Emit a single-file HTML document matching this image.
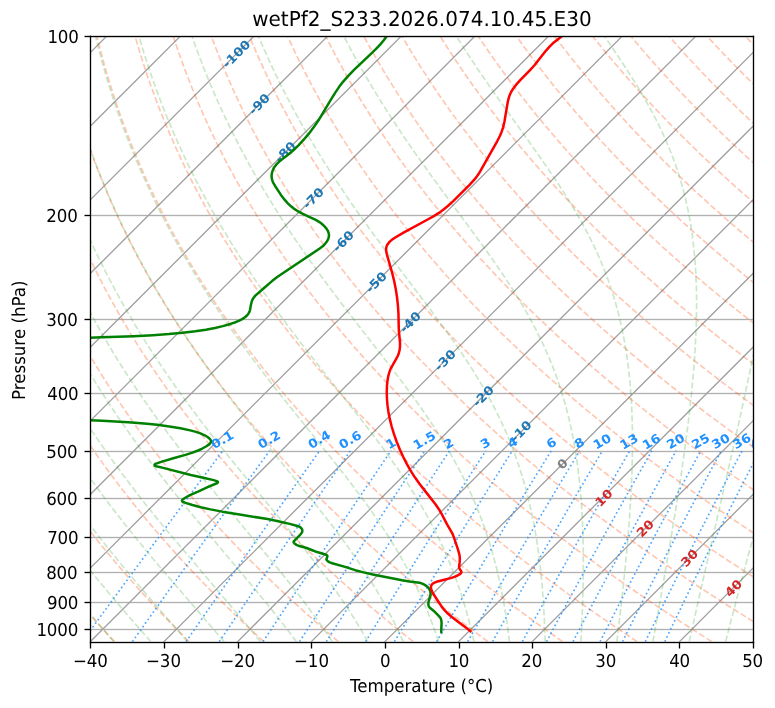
<!DOCTYPE html>
<html lang="en"><head><meta charset="utf-8"><title>Skew-T</title>
<style>html,body{margin:0;padding:0;background:#fff}svg{display:block;will-change:transform}text{text-rendering:geometricPrecision}</style></head>
<body>
<svg width="775" height="708" viewBox="0 0 465 424.8">
<defs>
<style type="text/css">*{stroke-linejoin: round; stroke-linecap: butt}</style>
</defs>
<g id="figure_1">
<g id="patch_1">
<path d="M 0 424.8 L 465 424.8 L 465 0 L 0 0 z" style="fill: #ffffff"/>
</g>
<g id="axes_1">
<g id="patch_2">
<path d="M 54.21 384.99 L 451.86 384.99 L 451.86 21.778 L 54.21 21.778 z" style="fill: #ffffff"/>
</g>
<g id="line2d_1">
<path d="M 54 21.9 L 451.8 21.9" style="fill: none; stroke: #b0b0b0; stroke-width: 0.6"/>
</g>
<g id="line2d_2">
<path d="M 54 22.5 L 451.8 22.5" style="fill: none; stroke: #b0b0b0; stroke-opacity: 0.166667; stroke-width: 0.6"/>
</g>
<g id="line2d_3">
<path d="M 54 128.7 L 451.8 128.7" style="fill: none; stroke: #b0b0b0; stroke-opacity: 0.166667; stroke-width: 0.6"/>
</g>
<g id="line2d_4">
<path d="M 54 129.3 L 451.8 129.3" style="fill: none; stroke: #b0b0b0; stroke-width: 0.6"/>
</g>
<g id="line2d_5">
<path d="M 54 129.9 L 451.8 129.9" style="fill: none; stroke: #b0b0b0; stroke-opacity: 0.166667; stroke-width: 0.6"/>
</g>
<g id="line2d_6">
<path d="M 54 191.1 L 451.8 191.1" style="fill: none; stroke: #b0b0b0; stroke-opacity: 0.166667; stroke-width: 0.6"/>
</g>
<g id="line2d_7">
<path d="M 54 191.7 L 451.8 191.7" style="fill: none; stroke: #b0b0b0; stroke-width: 0.6"/>
</g>
<g id="line2d_8">
<path d="M 54 192.3 L 451.8 192.3" style="fill: none; stroke: #b0b0b0; stroke-opacity: 0.166667; stroke-width: 0.6"/>
</g>
<g id="line2d_9">
<path d="M 54 235.5 L 451.8 235.5" style="fill: none; stroke: #b0b0b0; stroke-opacity: 0.166667; stroke-width: 0.6"/>
</g>
<g id="line2d_10">
<path d="M 54 236.1 L 451.8 236.1" style="fill: none; stroke: #b0b0b0; stroke-width: 0.6"/>
</g>
<g id="line2d_11">
<path d="M 54 236.7 L 451.8 236.7" style="fill: none; stroke: #b0b0b0; stroke-opacity: 0.166667; stroke-width: 0.6"/>
</g>
<g id="line2d_12">
<path d="M 54 270.3 L 451.8 270.3" style="fill: none; stroke: #b0b0b0; stroke-opacity: 0.166667; stroke-width: 0.6"/>
</g>
<g id="line2d_13">
<path d="M 54 270.9 L 451.8 270.9" style="fill: none; stroke: #b0b0b0; stroke-width: 0.6"/>
</g>
<g id="line2d_14">
<path d="M 54 271.5 L 451.8 271.5" style="fill: none; stroke: #b0b0b0; stroke-opacity: 0.166667; stroke-width: 0.6"/>
</g>
<g id="line2d_15">
<path d="M 54 298.5 L 451.8 298.5" style="fill: none; stroke: #b0b0b0; stroke-opacity: 0.166667; stroke-width: 0.6"/>
</g>
<g id="line2d_16">
<path d="M 54 299.1 L 451.8 299.1" style="fill: none; stroke: #b0b0b0; stroke-width: 0.6"/>
</g>
<g id="line2d_17">
<path d="M 54 299.7 L 451.8 299.7" style="fill: none; stroke: #b0b0b0; stroke-opacity: 0.166667; stroke-width: 0.6"/>
</g>
<g id="line2d_18">
<path d="M 54 321.9 L 451.8 321.9" style="fill: none; stroke: #b0b0b0; stroke-opacity: 0.166667; stroke-width: 0.6"/>
</g>
<g id="line2d_19">
<path d="M 54 322.5 L 451.8 322.5" style="fill: none; stroke: #b0b0b0; stroke-width: 0.6"/>
</g>
<g id="line2d_20">
<path d="M 54 323.1 L 451.8 323.1" style="fill: none; stroke: #b0b0b0; stroke-opacity: 0.166667; stroke-width: 0.6"/>
</g>
<g id="line2d_21">
<path d="M 54 342.9 L 451.8 342.9" style="fill: none; stroke: #b0b0b0; stroke-opacity: 0.166667; stroke-width: 0.6"/>
</g>
<g id="line2d_22">
<path d="M 54 343.5 L 451.8 343.5" style="fill: none; stroke: #b0b0b0; stroke-width: 0.6"/>
</g>
<g id="line2d_23">
<path d="M 54 344.1 L 451.8 344.1" style="fill: none; stroke: #b0b0b0; stroke-opacity: 0.166667; stroke-width: 0.6"/>
</g>
<g id="line2d_24">
<path d="M 54 360.9 L 451.8 360.9" style="fill: none; stroke: #b0b0b0; stroke-opacity: 0.166667; stroke-width: 0.6"/>
</g>
<g id="line2d_25">
<path d="M 54 361.5 L 451.8 361.5" style="fill: none; stroke: #b0b0b0; stroke-width: 0.6"/>
</g>
<g id="line2d_26">
<path d="M 54 362.1 L 451.8 362.1" style="fill: none; stroke: #b0b0b0; stroke-opacity: 0.166667; stroke-width: 0.6"/>
</g>
<g id="line2d_27">
<path d="M 54 377.1 L 451.8 377.1" style="fill: none; stroke: #b0b0b0; stroke-opacity: 0.166667; stroke-width: 0.6"/>
</g>
<g id="line2d_28">
<path d="M 54 377.7 L 451.8 377.7" style="fill: none; stroke: #b0b0b0; stroke-width: 0.6"/>
</g>
<g id="line2d_29">
<path d="M 54 378.3 L 451.8 378.3" style="fill: none; stroke: #b0b0b0; stroke-opacity: 0.166667; stroke-width: 0.6"/>
</g>
<g id="line2d_30">
<path d="M -1 42.55 L 19.772 21.778" clip-path="url(#p0dc1dbd13c)" style="fill: none; stroke: #a0a0a0; stroke-width: 0.8; stroke-linecap: square"/>
</g>
<g id="line2d_31">
<path d="M -1 86.733 L 63.956 21.778" clip-path="url(#p0dc1dbd13c)" style="fill: none; stroke: #a0a0a0; stroke-width: 0.8; stroke-linecap: square"/>
</g>
<g id="line2d_32">
<path d="M -1 130.917 L 108.139 21.778" clip-path="url(#p0dc1dbd13c)" style="fill: none; stroke: #a0a0a0; stroke-width: 0.8; stroke-linecap: square"/>
</g>
<g id="line2d_33">
<path d="M -1 175.1 L 152.322 21.778" clip-path="url(#p0dc1dbd13c)" style="fill: none; stroke: #a0a0a0; stroke-width: 0.8; stroke-linecap: square"/>
</g>
<g id="line2d_34">
<path d="M -1 219.283 L 196.506 21.778" clip-path="url(#p0dc1dbd13c)" style="fill: none; stroke: #a0a0a0; stroke-width: 0.8; stroke-linecap: square"/>
</g>
<g id="line2d_35">
<path d="M -1 263.467 L 240.689 21.778" clip-path="url(#p0dc1dbd13c)" style="fill: none; stroke: #a0a0a0; stroke-width: 0.8; stroke-linecap: square"/>
</g>
<g id="line2d_36">
<path d="M -1 307.65 L 284.872 21.778" clip-path="url(#p0dc1dbd13c)" style="fill: none; stroke: #a0a0a0; stroke-width: 0.8; stroke-linecap: square"/>
</g>
<g id="line2d_37">
<path d="M -1 351.833 L 329.056 21.778" clip-path="url(#p0dc1dbd13c)" style="fill: none; stroke: #a0a0a0; stroke-width: 0.8; stroke-linecap: square"/>
</g>
<g id="line2d_38">
<path d="M 10.027 384.99 L 373.239 21.778" clip-path="url(#p0dc1dbd13c)" style="fill: none; stroke: #a0a0a0; stroke-width: 0.8; stroke-linecap: square"/>
</g>
<g id="line2d_39">
<path d="M 54.21 384.99 L 417.422 21.778" clip-path="url(#p0dc1dbd13c)" style="fill: none; stroke: #a0a0a0; stroke-width: 0.8; stroke-linecap: square"/>
</g>
<g id="line2d_40">
<path d="M 98.393 384.99 L 461.606 21.778" clip-path="url(#p0dc1dbd13c)" style="fill: none; stroke: #a0a0a0; stroke-width: 0.8; stroke-linecap: square"/>
</g>
<g id="line2d_41">
<path d="M 142.577 384.99 L 466 61.567" clip-path="url(#p0dc1dbd13c)" style="fill: none; stroke: #a0a0a0; stroke-width: 0.8; stroke-linecap: square"/>
</g>
<g id="line2d_42">
<path d="M 186.76 384.99 L 466 105.75" clip-path="url(#p0dc1dbd13c)" style="fill: none; stroke: #a0a0a0; stroke-width: 0.8; stroke-linecap: square"/>
</g>
<g id="line2d_43">
<path d="M 230.943 384.99 L 466 149.933" clip-path="url(#p0dc1dbd13c)" style="fill: none; stroke: #a0a0a0; stroke-width: 0.8; stroke-linecap: square"/>
</g>
<g id="line2d_44">
<path d="M 275.127 384.99 L 466 194.117" clip-path="url(#p0dc1dbd13c)" style="fill: none; stroke: #a0a0a0; stroke-width: 0.8; stroke-linecap: square"/>
</g>
<g id="line2d_45">
<path d="M 319.31 384.99 L 466 238.3" clip-path="url(#p0dc1dbd13c)" style="fill: none; stroke: #a0a0a0; stroke-width: 0.8; stroke-linecap: square"/>
</g>
<g id="line2d_46">
<path d="M 363.493 384.99 L 466 282.483" clip-path="url(#p0dc1dbd13c)" style="fill: none; stroke: #a0a0a0; stroke-width: 0.8; stroke-linecap: square"/>
</g>
<g id="line2d_47">
<path d="M 407.677 384.99 L 466 326.667" clip-path="url(#p0dc1dbd13c)" style="fill: none; stroke: #a0a0a0; stroke-width: 0.8; stroke-linecap: square"/>
</g>
<g id="line2d_48">
<path d="M 451.86 384.99 L 466 370.85" clip-path="url(#p0dc1dbd13c)" style="fill: none; stroke: #a0a0a0; stroke-width: 0.8; stroke-linecap: square"/>
</g>
<g id="line2d_49">
<path d="M 68.671 384.99 L 60.078 375.604 L 51.954 366.402 L 43.987 357.037 L 36.549 347.961 L 29.314 338.791 L 22.297 329.544 L 15.517 320.243 L 8.991 310.911 L 2.738 301.582 L -1 295.806 L -1 295.806" clip-path="url(#p0dc1dbd13c)" style="fill: none; stroke-dasharray: 3.7,1.6; stroke-dashoffset: 0; stroke: #ff4500; stroke-opacity: 0.3"/>
</g>
<g id="line2d_50">
<path d="M 113.474 384.99 L 104.11 375.604 L 95.243 366.402 L 86.533 357.037 L 78.387 347.961 L 70.448 338.791 L 62.734 329.544 L 55.264 320.243 L 48.058 310.911 L 41.136 301.582 L 34.52 292.293 L 28.232 283.088 L 22.292 274.019 L 16.256 264.385 L 10.598 254.925 L 5.34 245.712 L 0.017 235.916 L -1 233.985 L -1 233.985" clip-path="url(#p0dc1dbd13c)" style="fill: none; stroke-dasharray: 3.7,1.6; stroke-dashoffset: 0; stroke: #ff4500; stroke-opacity: 0.3"/>
</g>
<g id="line2d_51">
<path d="M 158.278 384.99 L 148.142 375.604 L 138.533 366.402 L 129.079 357.037 L 120.224 347.961 L 111.582 338.791 L 103.17 329.544 L 95.01 320.243 L 87.124 310.911 L 79.534 301.582 L 72.264 292.293 L 65.339 283.088 L 58.782 274.019 L 52.101 264.385 L 45.821 254.925 L 39.968 245.712 L 34.023 235.916 L 28.54 226.436 L 23.542 217.377 L 18.489 207.753 L 13.955 198.664 L 9.386 189.007 L 5.366 180.031 L 1.331 170.501 L -1 164.722 L -1 164.722" clip-path="url(#p0dc1dbd13c)" style="fill: none; stroke-dasharray: 3.7,1.6; stroke-dashoffset: 0; stroke: #ff4500; stroke-opacity: 0.3"/>
</g>
<g id="line2d_52">
<path d="M 203.081 384.99 L 192.175 375.604 L 181.822 366.402 L 171.625 357.037 L 162.062 347.961 L 152.716 338.791 L 143.607 329.544 L 134.757 320.243 L 126.191 310.911 L 117.932 301.582 L 110.008 292.293 L 102.445 283.088 L 95.272 274.019 L 87.946 264.385 L 81.044 254.925 L 74.596 245.712 L 68.631 236.833 L 62.567 227.411 L 57.023 218.41 L 51.4 208.852 L 46.335 199.83 L 41.211 190.247 L 36.683 181.345 L 32.117 171.899 L 27.521 161.837 L 23.564 152.658 L 19.599 142.899 L 15.638 132.481 L 12.35 123.229 L 9.086 113.387 L 5.86 102.875 L 3.321 93.918 L 0.832 84.409 L -1 76.838 L -1 76.838" clip-path="url(#p0dc1dbd13c)" style="fill: none; stroke-dasharray: 3.7,1.6; stroke-dashoffset: 0; stroke: #ff4500; stroke-opacity: 0.3"/>
</g>
<g id="line2d_53">
<path d="M 247.885 384.99 L 236.207 375.604 L 225.111 366.402 L 214.171 357.037 L 203.9 347.961 L 193.85 338.791 L 184.043 329.544 L 174.504 320.243 L 165.257 310.911 L 156.331 301.582 L 147.752 292.293 L 139.552 283.088 L 131.761 274.019 L 124.411 265.148 L 116.901 255.736 L 109.871 246.573 L 103.354 237.744 L 96.714 228.379 L 90.629 219.437 L 84.44 209.944 L 78.85 200.987 L 73.178 191.478 L 68.148 182.649 L 63.058 173.284 L 57.912 163.315 L 53.461 154.226 L 48.98 144.569 L 44.475 134.267 L 40.711 125.124 L 36.947 115.406 L 33.196 105.035 L 30.214 96.206 L 27.26 86.842 L 24.348 76.873 L 21.494 66.215 L 18.723 54.768 L 16.717 45.589 L 14.79 35.83 L 12.964 25.412 L 12.382 21.778 L 12.382 21.778" clip-path="url(#p0dc1dbd13c)" style="fill: none; stroke-dasharray: 3.7,1.6; stroke-dashoffset: 0; stroke: #ff4500; stroke-opacity: 0.3"/>
</g>
<g id="line2d_54">
<path d="M 292.688 384.99 L 280.24 375.604 L 268.401 366.402 L 256.717 357.037 L 245.737 347.961 L 234.984 338.791 L 224.48 329.544 L 214.251 320.243 L 204.324 310.911 L 194.729 301.582 L 185.496 292.293 L 176.659 283.088 L 168.251 274.019 L 160.307 265.148 L 152.177 255.736 L 144.554 246.573 L 137.476 237.744 L 130.249 228.379 L 123.614 219.437 L 116.851 209.944 L 110.729 200.987 L 104.501 191.478 L 98.963 182.649 L 93.344 173.284 L 87.645 163.315 L 82.699 154.226 L 77.7 144.569 L 72.653 134.267 L 68.416 125.124 L 64.159 115.406 L 59.891 105.035 L 56.476 96.206 L 53.071 86.842 L 49.687 76.873 L 46.34 66.215 L 43.864 57.71 L 41.431 48.71 L 39.054 39.152 L 36.751 28.964 L 35.267 21.778 L 35.267 21.778" clip-path="url(#p0dc1dbd13c)" style="fill: none; stroke-dasharray: 3.7,1.6; stroke-dashoffset: 0; stroke: #ff4500; stroke-opacity: 0.3"/>
</g>
<g id="line2d_55">
<path d="M 337.492 384.99 L 324.272 375.604 L 311.69 366.402 L 299.262 357.037 L 287.575 347.961 L 276.118 338.791 L 264.916 329.544 L 253.997 320.243 L 243.39 310.911 L 233.127 301.582 L 223.241 292.293 L 213.766 283.088 L 204.74 274.019 L 196.202 265.148 L 187.453 255.736 L 179.238 246.573 L 171.597 237.744 L 163.785 228.379 L 156.6 219.437 L 149.263 209.944 L 142.608 200.987 L 135.824 191.478 L 129.779 182.649 L 123.631 173.284 L 117.378 163.315 L 111.936 154.226 L 106.419 144.569 L 101.767 136.033 L 97.067 126.997 L 92.324 117.399 L 87.545 107.166 L 83.701 98.461 L 79.847 89.237 L 75.99 79.426 L 72.143 68.949 L 69.274 60.598 L 66.427 51.769 L 63.614 42.404 L 60.85 32.435 L 58.151 21.778 L 58.151 21.778" clip-path="url(#p0dc1dbd13c)" style="fill: none; stroke-dasharray: 3.7,1.6; stroke-dashoffset: 0; stroke: #ff4500; stroke-opacity: 0.3"/>
</g>
<g id="line2d_56">
<path d="M 382.296 384.99 L 368.304 375.604 L 354.979 366.402 L 341.808 357.037 L 329.413 347.961 L 317.252 338.791 L 305.353 329.544 L 293.744 320.243 L 282.457 310.911 L 271.525 301.582 L 260.985 292.293 L 250.873 283.088 L 241.23 274.019 L 232.098 265.148 L 222.73 255.736 L 213.921 246.573 L 205.719 237.744 L 197.321 228.379 L 189.585 219.437 L 181.674 209.944 L 174.487 200.987 L 167.147 191.478 L 160.595 182.649 L 153.917 173.284 L 147.112 163.315 L 141.174 154.226 L 135.139 144.569 L 130.037 136.033 L 124.868 126.997 L 119.636 117.399 L 114.345 107.166 L 110.073 98.461 L 105.773 89.237 L 101.45 79.426 L 97.114 68.949 L 93.862 60.598 L 90.617 51.769 L 87.389 42.404 L 84.19 32.435 L 81.036 21.778 L 81.036 21.778" clip-path="url(#p0dc1dbd13c)" style="fill: none; stroke-dasharray: 3.7,1.6; stroke-dashoffset: 0; stroke: #ff4500; stroke-opacity: 0.3"/>
</g>
<g id="line2d_57">
<path d="M 427.099 384.99 L 412.337 375.604 L 398.268 366.402 L 384.354 357.037 L 370.616 347.515 L 357.732 338.318 L 345.115 329.042 L 332.796 319.709 L 320.808 310.344 L 309.187 300.98 L 297.971 291.653 L 287.2 282.409 L 276.919 273.299 L 267.172 264.385 L 257.161 254.925 L 247.738 245.712 L 238.952 236.833 L 229.945 227.411 L 221.638 218.41 L 213.13 208.852 L 205.388 199.83 L 197.47 190.247 L 190.39 181.345 L 183.162 171.899 L 176.845 163.315 L 170.411 154.226 L 163.859 144.569 L 158.307 136.033 L 152.67 126.997 L 146.949 117.399 L 141.145 107.166 L 136.445 98.461 L 131.699 89.237 L 126.91 79.426 L 122.085 68.949 L 118.45 60.598 L 114.807 51.769 L 111.163 42.404 L 107.53 32.435 L 103.921 21.778 L 103.921 21.778" clip-path="url(#p0dc1dbd13c)" style="fill: none; stroke-dasharray: 3.7,1.6; stroke-dashoffset: 0; stroke: #ff4500; stroke-opacity: 0.3"/>
</g>
<g id="line2d_58">
<path d="M 465.6 381.213 L 450.87 372.217 L 435.878 362.805 L 421.689 353.642 L 407.711 344.358 L 393.972 334.965 L 380.502 325.479 L 367.334 315.922 L 355.268 306.899 L 343.624 297.933 L 331.633 288.415 L 320.104 278.968 L 309.084 269.647 L 298.623 260.513 L 288.773 251.638 L 278.655 242.222 L 269.209 233.133 L 259.51 223.475 L 250.552 214.235 L 242.395 205.53 L 234.044 196.306 L 225.489 186.495 L 217.827 177.368 L 209.991 167.667 L 203.131 158.838 L 196.132 149.473 L 188.99 139.504 L 182.926 130.675 L 176.758 121.31 L 170.484 111.341 L 165.39 102.875 L 160.229 93.918 L 155.004 84.409 L 149.72 74.276 L 144.381 63.432 L 140.346 54.768 L 136.292 45.589 L 132.226 35.83 L 128.159 25.412 L 126.805 21.778 L 126.805 21.778" clip-path="url(#p0dc1dbd13c)" style="fill: none; stroke-dasharray: 3.7,1.6; stroke-dashoffset: 0; stroke: #ff4500; stroke-opacity: 0.3"/>
</g>
<g id="line2d_59">
<path d="M 465.6 354.657 L 451.399 345.719 L 437.014 336.411 L 422.905 327.016 L 409.107 317.556 L 395.656 308.056 L 382.594 298.547 L 369.963 289.068 L 357.811 279.662 L 346.188 270.384 L 335.147 261.295 L 323.783 251.638 L 313.06 242.222 L 303.041 233.133 L 292.743 223.475 L 283.222 214.235 L 274.543 205.53 L 265.648 196.306 L 256.525 186.495 L 248.343 177.368 L 239.965 167.667 L 232.619 158.838 L 225.113 149.473 L 217.442 139.504 L 210.917 130.675 L 204.268 121.31 L 197.492 111.341 L 191.978 102.875 L 186.38 93.918 L 180.7 84.409 L 174.938 74.276 L 169.098 63.432 L 164.671 54.768 L 160.207 45.589 L 155.714 35.83 L 151.198 25.412 L 149.69 21.778 L 149.69 21.778" clip-path="url(#p0dc1dbd13c)" style="fill: none; stroke-dasharray: 3.7,1.6; stroke-dashoffset: 0; stroke: #ff4500; stroke-opacity: 0.3"/>
</g>
<g id="line2d_60">
<path d="M 465.6 328.587 L 451.919 319.709 L 437.885 310.344 L 424.253 300.98 L 411.069 291.653 L 398.381 282.409 L 386.242 273.299 L 374.707 264.385 L 362.831 254.925 L 351.623 245.712 L 341.145 236.833 L 330.372 227.411 L 320.407 218.41 L 310.168 208.852 L 300.82 199.83 L 291.226 190.247 L 282.614 181.345 L 273.789 171.899 L 266.044 163.315 L 258.124 154.226 L 250.019 144.569 L 243.117 136.033 L 236.074 126.997 L 228.885 117.399 L 221.545 107.166 L 215.562 98.461 L 209.476 89.237 L 203.289 79.426 L 196.999 68.949 L 192.215 60.598 L 187.377 51.769 L 182.487 42.404 L 177.551 32.435 L 172.575 21.778 L 172.575 21.778" clip-path="url(#p0dc1dbd13c)" style="fill: none; stroke-dasharray: 3.7,1.6; stroke-dashoffset: 0; stroke: #ff4500; stroke-opacity: 0.3"/>
</g>
<g id="line2d_61">
<path d="M 465.6 302.961 L 452.502 294.196 L 439.291 285.107 L 426.65 276.16 L 413.618 266.662 L 401.215 257.345 L 389.505 248.28 L 377.442 238.65 L 366.147 229.342 L 355.693 220.456 L 344.944 211.028 L 335.127 202.135 L 325.042 192.699 L 315.986 183.942 L 306.697 174.658 L 297.161 164.779 L 288.778 155.779 L 280.191 146.221 L 272.869 137.778 L 265.391 128.847 L 257.747 119.367 L 249.93 109.268 L 243.548 100.684 L 237.047 91.595 L 230.423 81.938 L 223.676 71.636 L 218.533 63.432 L 213.32 54.768 L 208.038 45.589 L 202.688 35.83 L 197.276 25.412 L 195.459 21.778 L 195.459 21.778" clip-path="url(#p0dc1dbd13c)" style="fill: none; stroke-dasharray: 3.7,1.6; stroke-dashoffset: 0; stroke: #ff4500; stroke-opacity: 0.3"/>
</g>
<g id="line2d_62">
<path d="M 465.6 277.741 L 452.808 268.906 L 439.889 259.727 L 427.688 250.805 L 415.118 241.336 L 403.343 232.194 L 391.212 222.475 L 379.965 213.173 L 369.686 204.407 L 359.124 195.113 L 349.632 186.495 L 339.891 177.368 L 329.885 167.667 L 321.082 158.838 L 312.058 149.473 L 302.798 139.504 L 294.891 130.675 L 286.8 121.31 L 278.516 111.341 L 271.743 102.875 L 264.835 93.918 L 257.786 84.409 L 250.593 74.276 L 245.1 66.215 L 239.523 57.71 L 233.86 48.71 L 228.111 39.152 L 222.278 28.964 L 218.344 21.778 L 218.344 21.778" clip-path="url(#p0dc1dbd13c)" style="fill: none; stroke-dasharray: 3.7,1.6; stroke-dashoffset: 0; stroke: #ff4500; stroke-opacity: 0.3"/>
</g>
<g id="line2d_63">
<path d="M 465.6 252.89 L 453.102 243.977 L 440.86 234.994 L 428.245 225.456 L 416.547 216.337 L 404.496 206.646 L 393.465 197.489 L 382.111 187.756 L 371.89 178.705 L 361.384 169.09 L 352.135 160.345 L 342.646 151.074 L 332.9 141.211 L 324.571 132.481 L 316.041 123.229 L 307.299 113.387 L 300.143 105.035 L 292.837 96.206 L 285.373 86.842 L 277.745 76.873 L 269.946 66.215 L 263.98 57.71 L 257.913 48.71 L 251.743 39.152 L 245.468 28.964 L 241.228 21.778 L 241.228 21.778" clip-path="url(#p0dc1dbd13c)" style="fill: none; stroke-dasharray: 3.7,1.6; stroke-dashoffset: 0; stroke: #ff4500; stroke-opacity: 0.3"/>
</g>
<g id="line2d_64">
<path d="M 465.6 228.375 L 464.275 227.411 L 462.94 226.436 L 461.6 225.456 L 460.256 224.469 L 458.907 223.475 L 457.555 222.475 L 456.198 221.469 L 454.836 220.456 L 453.47 219.437 L 452.099 218.41 L 450.724 217.377 L 449.344 216.337 L 447.959 215.29 L 446.57 214.235 L 445.176 213.173 L 443.777 212.104 L 442.374 211.028 L 440.965 209.944 L 439.552 208.852 L 438.134 207.753 L 436.711 206.646 L 435.282 205.53 L 433.849 204.407 L 432.41 203.275 L 430.967 202.135 L 429.518 200.987 L 428.063 199.83 L 426.604 198.664 L 425.139 197.489 L 423.668 196.306 L 422.193 195.113 L 420.711 193.911 L 419.224 192.699 L 417.731 191.478 L 416.233 190.247 L 414.729 189.007 L 413.219 187.756 L 411.703 186.495 L 410.182 185.224 L 408.654 183.942 L 407.12 182.649 L 405.58 181.345 L 404.034 180.031 L 402.482 178.705 L 400.924 177.368 L 399.359 176.018 L 397.787 174.658 L 396.21 173.284 L 394.625 171.899 L 393.034 170.501 L 391.436 169.09 L 389.832 167.667 L 388.221 166.23 L 386.602 164.779 L 384.977 163.315 L 383.345 161.837 L 381.705 160.345 L 380.058 158.838 L 378.404 157.316 L 376.743 155.779 L 375.074 154.226 L 373.397 152.658 L 371.713 151.074 L 370.021 149.473 L 368.322 147.856 L 366.614 146.221 L 364.898 144.569 L 363.174 142.899 L 361.442 141.211 L 359.702 139.504 L 357.954 137.778 L 356.196 136.033 L 354.431 134.267 L 352.656 132.481 L 350.873 130.675 L 349.081 128.847 L 347.279 126.997 L 345.469 125.124 L 343.65 123.229 L 341.821 121.31 L 339.982 119.367 L 338.134 117.399 L 336.276 115.406 L 334.409 113.387 L 332.531 111.341 L 330.644 109.268 L 328.746 107.166 L 326.838 105.035 L 324.919 102.875 L 322.99 100.684 L 321.05 98.461 L 319.099 96.206 L 317.137 93.918 L 315.164 91.595 L 313.18 89.237 L 311.184 86.842 L 309.177 84.409 L 307.158 81.938 L 305.127 79.426 L 303.085 76.873 L 301.03 74.276 L 298.962 71.636 L 296.883 68.949 L 294.791 66.215 L 292.686 63.432 L 290.568 60.598 L 288.438 57.71 L 286.294 54.768 L 284.137 51.769 L 281.967 48.71 L 279.783 45.589 L 277.586 42.404 L 275.375 39.152 L 273.15 35.83 L 270.912 32.435 L 268.659 28.964 L 266.393 25.412 L 264.113 21.778" clip-path="url(#p0dc1dbd13c)" style="fill: none; stroke-dasharray: 3.7,1.6; stroke-dashoffset: 0; stroke: #ff4500; stroke-opacity: 0.3"/>
</g>
<g id="line2d_65">
<path d="M 465.6 204.159 L 464.424 203.275 L 462.913 202.135 L 461.396 200.987 L 459.874 199.83 L 458.346 198.664 L 456.812 197.489 L 455.272 196.306 L 453.727 195.113 L 452.175 193.911 L 450.618 192.699 L 449.055 191.478 L 447.485 190.247 L 445.909 189.007 L 444.327 187.756 L 442.739 186.495 L 441.144 185.224 L 439.543 183.942 L 437.936 182.649 L 436.322 181.345 L 434.701 180.031 L 433.074 178.705 L 431.44 177.368 L 429.799 176.018 L 428.151 174.658 L 426.496 173.284 L 424.834 171.899 L 423.165 170.501 L 421.489 169.09 L 419.805 167.667 L 418.114 166.23 L 416.416 164.779 L 414.71 163.315 L 412.997 161.837 L 411.275 160.345 L 409.546 158.838 L 407.809 157.316 L 406.064 155.779 L 404.311 154.226 L 402.55 152.658 L 400.781 151.074 L 399.003 149.473 L 397.217 147.856 L 395.422 146.221 L 393.618 144.569 L 391.806 142.899 L 389.985 141.211 L 388.154 139.504 L 386.315 137.778 L 384.466 136.033 L 382.608 134.267 L 380.741 132.481 L 378.864 130.675 L 376.977 128.847 L 375.081 126.997 L 373.174 125.124 L 371.258 123.229 L 369.331 121.31 L 367.394 119.367 L 365.446 117.399 L 363.488 115.406 L 361.519 113.387 L 359.539 111.341 L 357.548 109.268 L 355.546 107.166 L 353.532 105.035 L 351.507 102.875 L 349.471 100.684 L 347.422 98.461 L 345.361 96.206 L 343.289 93.918 L 341.204 91.595 L 339.106 89.237 L 336.996 86.842 L 334.873 84.409 L 332.736 81.938 L 330.587 79.426 L 328.424 76.873 L 326.248 74.276 L 324.058 71.636 L 321.854 68.949 L 319.636 66.215 L 317.403 63.432 L 315.156 60.598 L 312.895 57.71 L 310.618 54.768 L 308.327 51.769 L 306.02 48.71 L 303.698 45.589 L 301.36 42.404 L 299.007 39.152 L 296.637 35.83 L 294.252 32.435 L 291.85 28.964 L 289.432 25.412 L 286.998 21.778" clip-path="url(#p0dc1dbd13c)" style="fill: none; stroke-dasharray: 3.7,1.6; stroke-dashoffset: 0; stroke: #ff4500; stroke-opacity: 0.3"/>
</g>
<g id="line2d_66">
<path d="M 465.6 180.211 L 465.368 180.031 L 463.666 178.705 L 461.956 177.368 L 460.239 176.018 L 458.515 174.658 L 456.783 173.284 L 455.043 171.899 L 453.296 170.501 L 451.541 169.09 L 449.779 167.667 L 448.008 166.23 L 446.23 164.779 L 444.443 163.315 L 442.649 161.837 L 440.846 160.345 L 439.034 158.838 L 437.214 157.316 L 435.386 155.779 L 433.549 154.226 L 431.703 152.658 L 429.848 151.074 L 427.984 149.473 L 426.112 147.856 L 424.229 146.221 L 422.338 144.569 L 420.437 142.899 L 418.527 141.211 L 416.606 139.504 L 414.676 137.778 L 412.736 136.033 L 410.786 134.267 L 408.826 132.481 L 406.855 130.675 L 404.874 128.847 L 402.882 126.997 L 400.88 125.124 L 398.866 123.229 L 396.842 121.31 L 394.806 119.367 L 392.759 117.399 L 390.7 115.406 L 388.629 113.387 L 386.547 111.341 L 384.453 109.268 L 382.346 107.166 L 380.227 105.035 L 378.096 102.875 L 375.951 100.684 L 373.794 98.461 L 371.624 96.206 L 369.44 93.918 L 367.243 91.595 L 365.032 89.237 L 362.807 86.842 L 360.568 84.409 L 358.315 81.938 L 356.047 79.426 L 353.764 76.873 L 351.466 74.276 L 349.153 71.636 L 346.825 68.949 L 344.481 66.215 L 342.121 63.432 L 339.745 60.598 L 337.352 57.71 L 334.943 54.768 L 332.517 51.769 L 330.074 48.71 L 327.613 45.589 L 325.135 42.404 L 322.639 39.152 L 320.125 35.83 L 317.592 32.435 L 315.041 28.964 L 312.471 25.412 L 309.882 21.778" clip-path="url(#p0dc1dbd13c)" style="fill: none; stroke-dasharray: 3.7,1.6; stroke-dashoffset: 0; stroke: #ff4500; stroke-opacity: 0.3"/>
</g>
<g id="line2d_67">
<path d="M 465.6 156.496 L 464.708 155.779 L 462.786 154.226 L 460.856 152.658 L 458.916 151.074 L 456.966 149.473 L 455.007 147.856 L 453.037 146.221 L 451.058 144.569 L 449.068 142.899 L 447.069 141.211 L 445.058 139.504 L 443.038 137.778 L 441.006 136.033 L 438.964 134.267 L 436.911 132.481 L 434.846 130.675 L 432.771 128.847 L 430.684 126.997 L 428.585 125.124 L 426.475 123.229 L 424.352 121.31 L 422.218 119.367 L 420.071 117.399 L 417.912 115.406 L 415.74 113.387 L 413.555 111.341 L 411.357 109.268 L 409.146 107.166 L 406.922 105.035 L 404.684 102.875 L 402.432 100.684 L 400.166 98.461 L 397.886 96.206 L 395.591 93.918 L 393.282 91.595 L 390.958 89.237 L 388.618 86.842 L 386.263 84.409 L 383.893 81.938 L 381.506 79.426 L 379.104 76.873 L 376.685 74.276 L 374.249 71.636 L 371.796 68.949 L 369.326 66.215 L 366.838 63.432 L 364.333 60.598 L 361.81 57.71 L 359.268 54.768 L 356.707 51.769 L 354.127 48.71 L 351.528 45.589 L 348.909 42.404 L 346.271 39.152 L 343.612 35.83 L 340.932 32.435 L 338.232 28.964 L 335.51 25.412 L 332.767 21.778" clip-path="url(#p0dc1dbd13c)" style="fill: none; stroke-dasharray: 3.7,1.6; stroke-dashoffset: 0; stroke: #ff4500; stroke-opacity: 0.3"/>
</g>
<g id="line2d_68">
<path d="M 465.6 132.984 L 464.996 132.481 L 462.838 130.675 L 460.667 128.847 L 458.485 126.997 L 456.29 125.124 L 454.083 123.229 L 451.863 121.31 L 449.629 119.367 L 447.383 117.399 L 445.123 115.406 L 442.85 113.387 L 440.563 111.341 L 438.262 109.268 L 435.946 107.166 L 433.617 105.035 L 431.272 102.875 L 428.913 100.684 L 426.538 98.461 L 424.148 96.206 L 421.743 93.918 L 419.321 91.595 L 416.884 89.237 L 414.43 86.842 L 411.959 84.409 L 409.471 81.938 L 406.966 79.426 L 404.443 76.873 L 401.903 74.276 L 399.344 71.636 L 396.767 68.949 L 394.171 66.215 L 391.556 63.432 L 388.921 60.598 L 386.267 57.71 L 383.592 54.768 L 380.897 51.769 L 378.181 48.71 L 375.443 45.589 L 372.684 42.404 L 369.903 39.152 L 367.099 35.83 L 364.272 32.435 L 361.423 28.964 L 358.549 25.412 L 355.652 21.778" clip-path="url(#p0dc1dbd13c)" style="fill: none; stroke-dasharray: 3.7,1.6; stroke-dashoffset: 0; stroke: #ff4500; stroke-opacity: 0.3"/>
</g>
<g id="line2d_69">
<path d="M 465.6 109.642 L 465.166 109.268 L 462.746 107.166 L 460.311 105.035 L 457.86 102.875 L 455.393 100.684 L 452.91 98.461 L 450.411 96.206 L 447.894 93.918 L 445.361 91.595 L 442.81 89.237 L 440.241 86.842 L 437.654 84.409 L 435.049 81.938 L 432.426 79.426 L 429.783 76.873 L 427.121 74.276 L 424.44 71.636 L 421.738 68.949 L 419.016 66.215 L 416.274 63.432 L 413.51 60.598 L 410.724 57.71 L 407.917 54.768 L 405.087 51.769 L 402.234 48.71 L 399.358 45.589 L 396.459 42.404 L 393.535 39.152 L 390.586 35.83 L 387.613 32.435 L 384.614 28.964 L 381.588 25.412 L 378.536 21.778" clip-path="url(#p0dc1dbd13c)" style="fill: none; stroke-dasharray: 3.7,1.6; stroke-dashoffset: 0; stroke: #ff4500; stroke-opacity: 0.3"/>
</g>
<g id="line2d_70">
<path d="M 465.6 86.435 L 463.35 84.409 L 460.628 81.938 L 457.885 79.426 L 455.123 76.873 L 452.34 74.276 L 449.535 71.636 L 446.709 68.949 L 443.861 66.215 L 440.991 63.432 L 438.098 60.598 L 435.181 57.71 L 432.241 54.768 L 429.277 51.769 L 426.288 48.71 L 423.273 45.589 L 420.233 42.404 L 417.167 39.152 L 414.074 35.83 L 410.953 32.435 L 407.804 28.964 L 404.627 25.412 L 401.421 21.778" clip-path="url(#p0dc1dbd13c)" style="fill: none; stroke-dasharray: 3.7,1.6; stroke-dashoffset: 0; stroke: #ff4500; stroke-opacity: 0.3"/>
</g>
<g id="line2d_71">
<path d="M 465.6 63.33 L 462.686 60.598 L 459.639 57.71 L 456.566 54.768 L 453.467 51.769 L 450.341 48.71 L 447.188 45.589 L 444.008 42.404 L 440.799 39.152 L 437.561 35.83 L 434.293 32.435 L 430.995 28.964 L 427.666 25.412 L 424.306 21.778" clip-path="url(#p0dc1dbd13c)" style="fill: none; stroke-dasharray: 3.7,1.6; stroke-dashoffset: 0; stroke: #ff4500; stroke-opacity: 0.3"/>
</g>
<g id="line2d_72">
<path d="M 465.6 40.286 L 464.431 39.152 L 461.048 35.83 L 457.633 32.435 L 454.186 28.964 L 450.705 25.412 L 447.19 21.778" clip-path="url(#p0dc1dbd13c)" style="fill: none; stroke-dasharray: 3.7,1.6; stroke-dashoffset: 0; stroke: #ff4500; stroke-opacity: 0.3"/>
</g>
<g id="line2d_73">
<path d="M 68.273 384.99 L 56.949 371.836 L 47.36 360.359 L 38.766 349.731 L 30.955 339.733 L 23.656 330.045 L 16.546 320.243 L 10.041 310.911 L 3.796 301.582 L -1 294.142 L -1 294.142" clip-path="url(#p0dc1dbd13c)" style="fill: none; stroke-dasharray: 3.7,1.6; stroke-dashoffset: 0; stroke: #2ca02c; stroke-opacity: 0.25"/>
</g>
<g id="line2d_74">
<path d="M 90.445 384.99 L 75.621 367.974 L 64.911 355.349 L 55.494 343.902 L 47.222 333.505 L 39.466 323.406 L 32.293 313.715 L 25.354 303.968 L 18.678 294.196 L 12.292 284.437 L 6.222 274.736 L 0.493 265.148 L -1 262.572 L -1 262.572" clip-path="url(#p0dc1dbd13c)" style="fill: none; stroke-dasharray: 3.7,1.6; stroke-dashoffset: 0; stroke: #2ca02c; stroke-opacity: 0.25"/>
</g>
<g id="line2d_75">
<path d="M 112.515 384.99 L 86.042 354.498 L 75.186 341.6 L 66.158 330.544 L 58.015 320.243 L 50.458 310.344 L 43.124 300.375 L 36.049 290.366 L 29.722 281.042 L 23.735 271.849 L 17.641 262.074 L 11.923 252.466 L 6.606 243.102 L 1.712 234.066 L -1 228.865 L -1 228.865" clip-path="url(#p0dc1dbd13c)" style="fill: none; stroke-dasharray: 3.7,1.6; stroke-dashoffset: 0; stroke: #2ca02c; stroke-opacity: 0.25"/>
</g>
<g id="line2d_76">
<path d="M 134.457 384.99 L 121.525 369.917 L 95.577 339.733 L 84.98 327.016 L 76.012 315.922 L 67.591 305.147 L 59.814 294.825 L 52.765 285.107 L 46.03 275.449 L 39.643 265.907 L 33.635 256.542 L 28.034 247.429 L 22.345 237.744 L 17.102 228.379 L 12.326 219.437 L 7.502 209.944 L 3.178 200.987 L -1 191.868 L -1 191.868" clip-path="url(#p0dc1dbd13c)" style="fill: none; stroke-dasharray: 3.7,1.6; stroke-dashoffset: 0; stroke: #2ca02c; stroke-opacity: 0.25"/>
</g>
<g id="line2d_77">
<path d="M 156.25 384.99 L 147.966 374.857 L 137.142 361.994 L 99.006 317.013 L 89.394 305.147 L 80.814 294.196 L 72.93 283.764 L 65.836 274.019 L 59.089 264.385 L 52.726 254.925 L 46.781 245.712 L 40.73 235.916 L 35.141 226.436 L 30.04 217.377 L 24.876 207.753 L 20.238 198.664 L 15.56 189.007 L 11.438 180.031 L 7.298 170.501 L 3.148 160.345 L -0.408 151.074 L -1 149.471 L -1 149.471" clip-path="url(#p0dc1dbd13c)" style="fill: none; stroke-dasharray: 3.7,1.6; stroke-dashoffset: 0; stroke: #2ca02c; stroke-opacity: 0.25"/>
</g>
<g id="line2d_78">
<path d="M 177.882 384.99 L 171.638 376.716 L 164.463 367.582 L 155.885 357.037 L 144.516 343.444 L 112.793 305.733 L 102.938 293.564 L 94.191 282.409 L 86.2 271.849 L 79.071 262.074 L 72.327 252.466 L 66.009 243.102 L 59.563 233.133 L 53.594 223.475 L 48.136 214.235 L 42.6 204.407 L 37.617 195.113 L 32.579 185.224 L 28.133 176.018 L 23.656 166.23 L 19.802 157.316 L 15.94 147.856 L 12.08 137.778 L 8.874 128.847 L 5.689 119.367 L 2.537 109.268 L -0.564 98.461 L -1 96.853 L -1 96.853" clip-path="url(#p0dc1dbd13c)" style="fill: none; stroke-dasharray: 3.7,1.6; stroke-dashoffset: 0; stroke: #2ca02c; stroke-opacity: 0.25"/>
</g>
<g id="line2d_79">
<path d="M 199.36 384.99 L 194.297 377.453 L 188.696 369.53 L 182.509 361.179 L 175.691 352.349 L 167.455 342.063 L 156.717 329.042 L 121.324 286.438 L 112.019 274.736 L 103.469 263.618 L 95.81 253.29 L 88.54 243.102 L 81.711 233.133 L 75.369 223.475 L 69.554 214.235 L 63.64 204.407 L 58.302 195.113 L 52.893 185.224 L 48.106 176.018 L 43.272 166.23 L 39.098 157.316 L 34.902 147.856 L 30.692 137.778 L 27.181 128.847 L 23.677 119.367 L 20.193 109.268 L 16.743 98.461 L 14.021 89.237 L 11.349 79.426 L 8.742 68.949 L 6.225 57.71 L 4.413 48.71 L 2.685 39.152 L 1.061 28.964 L 0.048 21.778 L 0.048 21.778" clip-path="url(#p0dc1dbd13c)" style="fill: none; stroke-dasharray: 3.7,1.6; stroke-dashoffset: 0; stroke: #2ca02c; stroke-opacity: 0.25"/>
</g>
<g id="line2d_80">
<path d="M 220.708 384.99 L 216.605 377.821 L 212.269 370.687 L 207.455 363.208 L 202.407 355.773 L 196.84 347.961 L 190.355 339.263 L 183.201 330.045 L 174.478 319.174 L 161.965 303.968 L 139.05 276.16 L 129.027 263.618 L 120.388 252.466 L 112.717 242.222 L 105.476 232.194 L 98.724 222.475 L 92.512 213.173 L 86.176 203.275 L 80.442 193.911 L 74.614 183.942 L 69.443 174.658 L 64.207 164.779 L 59.673 155.779 L 55.102 146.221 L 50.501 136.033 L 46.652 126.997 L 42.796 117.399 L 38.946 107.166 L 35.879 98.461 L 32.833 89.237 L 29.822 79.426 L 26.861 68.949 L 23.971 57.71 L 21.867 48.71 L 19.833 39.152 L 17.888 28.964 L 16.653 21.778 L 16.653 21.778" clip-path="url(#p0dc1dbd13c)" style="fill: none; stroke-dasharray: 3.7,1.6; stroke-dashoffset: 0; stroke: #2ca02c; stroke-opacity: 0.25"/>
</g>
<g id="line2d_81">
<path d="M 241.966 384.99 L 238.656 377.821 L 235.114 370.687 L 231.351 363.611 L 227.381 356.617 L 222.96 349.291 L 218.338 342.063 L 213.223 334.48 L 207.571 326.506 L 201.34 318.097 L 194.046 308.631 L 185.036 297.316 L 171.208 280.354 L 153.143 258.143 L 143.308 245.712 L 134.377 234.066 L 126.537 223.475 L 119.193 213.173 L 112.413 203.275 L 106.253 193.911 L 99.972 183.942 L 94.379 174.658 L 88.699 164.779 L 83.765 155.779 L 78.774 146.221 L 73.733 136.033 L 69.5 126.997 L 65.243 117.399 L 60.972 107.166 L 57.553 98.461 L 54.141 89.237 L 50.747 79.426 L 47.384 68.949 L 44.072 57.71 L 41.636 48.71 L 39.255 39.152 L 36.948 28.964 L 35.461 21.778 L 35.461 21.778" clip-path="url(#p0dc1dbd13c)" style="fill: none; stroke-dasharray: 3.7,1.6; stroke-dashoffset: 0; stroke: #2ca02c; stroke-opacity: 0.25"/>
</g>
<g id="line2d_82">
<path d="M 263.186 384.99 L 260.572 377.453 L 257.866 370.303 L 254.953 363.208 L 251.839 356.195 L 248.536 349.291 L 245.067 342.525 L 241.187 335.448 L 237.151 328.538 L 232.668 321.304 L 227.692 313.715 L 222.177 305.733 L 216.08 297.316 L 208.861 287.759 L 200.343 276.867 L 187.854 261.295 L 167.494 235.916 L 157.805 223.475 L 149.227 212.104 L 141.962 202.135 L 134.482 191.478 L 127.659 181.345 L 121.559 171.899 L 115.342 161.837 L 109.923 152.658 L 104.425 142.899 L 99.785 134.267 L 95.098 125.124 L 90.368 115.406 L 85.604 105.035 L 81.773 96.206 L 77.935 86.842 L 74.097 76.873 L 70.273 66.215 L 67.424 57.71 L 64.602 48.71 L 61.819 39.152 L 59.091 28.964 L 57.311 21.778 L 57.311 21.778" clip-path="url(#p0dc1dbd13c)" style="fill: none; stroke-dasharray: 3.7,1.6; stroke-dashoffset: 0; stroke: #2ca02c; stroke-opacity: 0.25"/>
</g>
<g id="line2d_83">
<path d="M 284.417 384.99 L 282.481 376.716 L 280.396 368.754 L 278.191 361.179 L 275.769 353.642 L 273.127 346.17 L 270.269 338.791 L 267.206 331.538 L 263.957 324.446 L 260.555 317.556 L 257.039 310.911 L 253.12 303.968 L 248.75 296.697 L 243.883 289.068 L 238.944 281.727 L 232.994 273.299 L 226.422 264.385 L 218.57 254.11 L 207.834 240.446 L 182.912 208.852 L 173.357 196.306 L 165.194 185.224 L 157.692 174.658 L 150.946 164.779 L 145.032 155.779 L 139.002 146.221 L 132.859 136.033 L 127.659 126.997 L 122.387 117.399 L 117.05 107.166 L 112.739 98.461 L 108.395 89.237 L 104.027 79.426 L 99.642 68.949 L 96.351 60.598 L 93.066 51.769 L 89.796 42.404 L 86.553 32.435 L 83.353 21.778 L 83.353 21.778" clip-path="url(#p0dc1dbd13c)" style="fill: none; stroke-dasharray: 3.7,1.6; stroke-dashoffset: 0; stroke: #2ca02c; stroke-opacity: 0.25"/>
</g>
<g id="line2d_84">
<path d="M 305.702 384.99 L 304.449 375.231 L 303.041 366.006 L 301.52 357.456 L 299.855 349.291 L 297.965 341.135 L 295.973 333.505 L 293.786 325.993 L 291.409 318.636 L 288.86 311.476 L 286.165 304.558 L 283.359 297.933 L 280.186 291.011 L 276.939 284.437 L 273.301 277.57 L 269.228 270.384 L 265.149 263.618 L 260.641 256.542 L 255.672 249.126 L 249.572 240.446 L 242.83 231.249 L 233.866 219.437 L 218.627 199.83 L 204.36 181.345 L 195.169 169.09 L 186.631 157.316 L 178.892 146.221 L 172.07 136.033 L 166.257 126.997 L 160.333 117.399 L 154.303 107.166 L 149.406 98.461 L 144.449 89.237 L 139.436 79.426 L 134.375 68.949 L 130.553 60.598 L 126.715 51.769 L 122.868 42.404 L 119.021 32.435 L 115.188 21.778 L 115.188 21.778" clip-path="url(#p0dc1dbd13c)" style="fill: none; stroke-dasharray: 3.7,1.6; stroke-dashoffset: 0; stroke: #2ca02c; stroke-opacity: 0.25"/>
</g>
<g id="line2d_85">
<path d="M 327.072 384.99 L 326.669 372.976 L 326.085 361.994 L 325.303 351.482 L 324.341 341.6 L 323.241 332.525 L 321.987 323.927 L 320.511 315.373 L 318.93 307.479 L 317.163 299.768 L 315.224 292.293 L 313.134 285.107 L 310.928 278.271 L 308.38 271.118 L 305.746 264.385 L 302.738 257.345 L 299.707 250.805 L 296.294 243.977 L 292.452 236.833 L 288.7 230.298 L 284.55 223.475 L 279.969 216.337 L 274.17 207.753 L 267.737 198.664 L 259.713 187.756 L 247.714 171.899 L 229.507 147.856 L 220.815 136.033 L 213.045 125.124 L 206.359 115.406 L 199.49 105.035 L 193.87 96.206 L 188.145 86.842 L 182.32 76.873 L 176.4 66.215 L 171.903 57.71 L 167.362 48.71 L 162.782 39.152 L 158.171 28.964 L 155.084 21.778 L 155.084 21.778" clip-path="url(#p0dc1dbd13c)" style="fill: none; stroke-dasharray: 3.7,1.6; stroke-dashoffset: 0; stroke: #2ca02c; stroke-opacity: 0.25"/>
</g>
<g id="line2d_86">
<path d="M 348.541 384.99 L 349.315 369.143 L 349.789 354.924 L 349.999 342.063 L 349.972 330.045 L 349.732 319.174 L 349.275 308.631 L 348.649 299.159 L 347.799 289.718 L 346.795 281.042 L 345.588 272.575 L 344.186 264.385 L 342.606 256.542 L 340.883 249.126 L 339.062 242.222 L 336.919 234.994 L 334.732 228.379 L 332.207 221.469 L 329.733 215.29 L 326.933 208.852 L 323.766 202.135 L 320.185 195.113 L 316.146 187.756 L 311.599 180.031 L 306.5 171.899 L 300.811 163.315 L 294.503 154.226 L 286.342 142.899 L 273.205 125.124 L 258.441 105.035 L 248.879 91.595 L 242.24 81.938 L 235.404 71.636 L 228.384 60.598 L 223.006 51.769 L 217.535 42.404 L 211.979 32.435 L 206.344 21.778 L 206.344 21.778" clip-path="url(#p0dc1dbd13c)" style="fill: none; stroke-dasharray: 3.7,1.6; stroke-dashoffset: 0; stroke: #2ca02c; stroke-opacity: 0.25"/>
</g>
<g id="line2d_87">
<path d="M 370.114 384.99 L 372.881 361.587 L 374.97 342.063 L 376.527 325.479 L 377.725 310.344 L 378.58 296.697 L 379.131 284.437 L 379.422 273.299 L 379.486 262.848 L 379.322 252.466 L 378.952 243.102 L 378.373 234.066 L 377.594 225.456 L 376.641 217.377 L 375.557 209.944 L 374.184 202.135 L 372.73 195.113 L 370.966 187.756 L 369.216 181.345 L 367.167 174.658 L 364.77 167.667 L 362.564 161.837 L 360.068 155.779 L 357.247 149.473 L 354.062 142.899 L 350.477 136.033 L 346.452 128.847 L 341.952 121.31 L 336.946 113.387 L 331.411 105.035 L 323.731 93.918 L 313.411 79.426 L 295.833 54.768 L 287.303 42.404 L 280.651 32.435 L 273.798 21.778 L 273.798 21.778" clip-path="url(#p0dc1dbd13c)" style="fill: none; stroke-dasharray: 3.7,1.6; stroke-dashoffset: 0; stroke: #2ca02c; stroke-opacity: 0.25"/>
</g>
<g id="line2d_88">
<path d="M 391.786 384.99 L 401.061 332.032 L 405.334 306.317 L 408.529 285.774 L 411.05 268.162 L 413.074 252.466 L 414.642 238.65 L 415.912 225.456 L 416.859 213.173 L 417.484 202.135 L 417.853 191.478 L 417.961 181.345 L 417.82 171.899 L 417.465 163.315 L 416.957 155.779 L 416.205 147.856 L 415.388 141.211 L 414.337 134.267 L 413.005 126.997 L 411.335 119.367 L 409.817 113.387 L 408.034 107.166 L 405.946 100.684 L 403.508 93.918 L 400.668 86.842 L 397.374 79.426 L 393.567 71.636 L 389.193 63.432 L 384.2 54.768 L 378.549 45.589 L 372.218 35.83 L 365.206 25.412 L 362.721 21.778 L 362.721 21.778" clip-path="url(#p0dc1dbd13c)" style="fill: none; stroke-dasharray: 3.7,1.6; stroke-dashoffset: 0; stroke: #2ca02c; stroke-opacity: 0.25"/>
</g>
<g id="line2d_89">
<path d="M 413.549 384.99 L 420.84 352.349 L 432.445 301.582 L 442.661 256.542 L 448.187 231.249 L 452.625 209.944 L 456.244 191.478 L 459.063 176.018 L 461.437 161.837 L 463.309 149.473 L 464.879 137.778 L 466 128.177 M 466 47.584 L 465.169 42.404 L 463.908 35.83 L 462.34 28.964 L 460.412 21.778 L 460.412 21.778" clip-path="url(#p0dc1dbd13c)" style="fill: none; stroke-dasharray: 3.7,1.6; stroke-dashoffset: 0; stroke: #2ca02c; stroke-opacity: 0.25"/>
</g>
<g id="line2d_90">
<path d="M 435.391 384.99 L 441.724 360.359 L 448.738 333.993 L 456.648 305.147 L 466 271.921 L 466 271.921" clip-path="url(#p0dc1dbd13c)" style="fill: none; stroke-dasharray: 3.7,1.6; stroke-dashoffset: 0; stroke: #2ca02c; stroke-opacity: 0.25"/>
</g>
<g id="line2d_91">
<path d="M 457.301 384.99 L 463.432 363.208 L 466 354.31 L 466 354.31" clip-path="url(#p0dc1dbd13c)" style="fill: none; stroke-dasharray: 3.7,1.6; stroke-dashoffset: 0; stroke: #2ca02c; stroke-opacity: 0.25"/>
</g>
<g id="line2d_92">
<path d="M 49.299 384.99 L 49.896 384.171 L 50.495 383.347 L 51.098 382.518 L 51.705 381.686 L 52.315 380.849 L 52.928 380.007 L 53.544 379.16 L 54.165 378.309 L 54.788 377.453 L 55.416 376.593 L 56.047 375.728 L 56.681 374.857 L 57.32 373.982 L 57.962 373.102 L 58.608 372.217 L 59.258 371.326 L 59.911 370.431 L 60.569 369.53 L 61.231 368.624 L 61.896 367.713 L 62.566 366.796 L 63.24 365.874 L 63.918 364.946 L 64.601 364.013 L 65.287 363.074 L 65.978 362.129 L 66.674 361.179 L 67.373 360.222 L 68.078 359.26 L 68.787 358.291 L 69.5 357.317 L 70.218 356.336 L 70.941 355.349 L 71.669 354.356 L 72.402 353.356 L 73.139 352.349 L 73.882 351.337 L 74.629 350.317 L 75.382 349.291 L 76.14 348.257 L 76.903 347.217 L 77.672 346.17 L 78.446 345.116 L 79.226 344.054 L 80.011 342.985 L 80.802 341.908 L 81.598 340.825 L 82.4 339.733 L 83.209 338.633 L 84.023 337.526 L 84.843 336.411 L 85.67 335.287 L 86.502 334.156 L 87.341 333.016 L 88.187 331.867 L 89.039 330.71 L 89.898 329.544 L 90.763 328.37 L 91.635 327.186 L 92.515 325.993 L 93.401 324.791 L 94.294 323.58 L 95.195 322.359 L 96.103 321.128 L 97.019 319.887 L 97.943 318.636 L 98.874 317.375 L 99.813 316.104 L 100.76 314.822 L 101.715 313.529 L 102.679 312.226 L 103.651 310.911 L 104.632 309.585 L 105.621 308.248 L 106.62 306.899 L 107.627 305.538 L 108.644 304.165 L 109.67 302.78 L 110.706 301.382 L 111.752 299.971 L 112.807 298.547 L 113.873 297.11 L 114.949 295.66 L 116.035 294.196 L 117.132 292.718 L 118.24 291.225 L 119.36 289.718 L 120.49 288.196 L 121.633 286.659 L 122.787 285.107 L 123.953 283.539 L 125.132 281.954 L 126.323 280.354 L 127.527 278.736 L 128.744 277.101 L 129.974 275.449 L 131.219 273.779 L 132.477 272.091 L 133.75 270.384" clip-path="url(#p0dc1dbd13c)" style="fill: none; stroke-dasharray: 1,1.65; stroke-dashoffset: 0; stroke: #1e90ff; stroke-opacity: 0.8"/>
</g>
<g id="line2d_93">
<path d="M 79.43 384.99 L 80.011 384.171 L 80.596 383.347 L 81.183 382.518 L 81.774 381.686 L 82.368 380.849 L 82.966 380.007 L 83.567 379.16 L 84.171 378.309 L 84.779 377.453 L 85.391 376.593 L 86.006 375.728 L 86.624 374.857 L 87.246 373.982 L 87.872 373.102 L 88.502 372.217 L 89.135 371.326 L 89.773 370.431 L 90.414 369.53 L 91.059 368.624 L 91.708 367.713 L 92.36 366.796 L 93.017 365.874 L 93.679 364.946 L 94.344 364.013 L 95.013 363.074 L 95.687 362.129 L 96.365 361.179 L 97.047 360.222 L 97.734 359.26 L 98.425 358.291 L 99.121 357.317 L 99.822 356.336 L 100.527 355.349 L 101.236 354.356 L 101.951 353.356 L 102.67 352.349 L 103.394 351.337 L 104.124 350.317 L 104.858 349.291 L 105.597 348.257 L 106.342 347.217 L 107.091 346.17 L 107.847 345.116 L 108.607 344.054 L 109.373 342.985 L 110.144 341.908 L 110.921 340.825 L 111.704 339.733 L 112.493 338.633 L 113.287 337.526 L 114.088 336.411 L 114.894 335.287 L 115.707 334.156 L 116.525 333.016 L 117.35 331.867 L 118.182 330.71 L 119.02 329.544 L 119.865 328.37 L 120.716 327.186 L 121.574 325.993 L 122.439 324.791 L 123.311 323.58 L 124.191 322.359 L 125.077 321.128 L 125.971 319.887 L 126.872 318.636 L 127.781 317.375 L 128.698 316.104 L 129.623 314.822 L 130.556 313.529 L 131.497 312.226 L 132.446 310.911 L 133.404 309.585 L 134.37 308.248 L 135.345 306.899 L 136.329 305.538 L 137.322 304.165 L 138.324 302.78 L 139.335 301.382 L 140.357 299.971 L 141.388 298.547 L 142.428 297.11 L 143.479 295.66 L 144.541 294.196 L 145.612 292.718 L 146.695 291.225 L 147.789 289.718 L 148.893 288.196 L 150.009 286.659 L 151.137 285.107 L 152.276 283.539 L 153.428 281.954 L 154.592 280.354 L 155.769 278.736 L 156.958 277.101 L 158.161 275.449 L 159.377 273.779 L 160.607 272.091 L 161.851 270.384" clip-path="url(#p0dc1dbd13c)" style="fill: none; stroke-dasharray: 1,1.65; stroke-dashoffset: 0; stroke: #1e90ff; stroke-opacity: 0.8"/>
</g>
<g id="line2d_94">
<path d="M 111.655 384.99 L 112.219 384.171 L 112.786 383.347 L 113.357 382.518 L 113.931 381.686 L 114.508 380.849 L 115.088 380.007 L 115.671 379.16 L 116.258 378.309 L 116.849 377.453 L 117.443 376.593 L 118.04 375.728 L 118.641 374.857 L 119.245 373.982 L 119.853 373.102 L 120.464 372.217 L 121.08 371.326 L 121.699 370.431 L 122.321 369.53 L 122.948 368.624 L 123.578 367.713 L 124.213 366.796 L 124.851 365.874 L 125.493 364.946 L 126.14 364.013 L 126.79 363.074 L 127.445 362.129 L 128.104 361.179 L 128.767 360.222 L 129.434 359.26 L 130.106 358.291 L 130.782 357.317 L 131.463 356.336 L 132.148 355.349 L 132.838 354.356 L 133.532 353.356 L 134.231 352.349 L 134.935 351.337 L 135.644 350.317 L 136.358 349.291 L 137.077 348.257 L 137.801 347.217 L 138.529 346.17 L 139.264 345.116 L 140.003 344.054 L 140.748 342.985 L 141.498 341.908 L 142.253 340.825 L 143.014 339.733 L 143.781 338.633 L 144.554 337.526 L 145.332 336.411 L 146.117 335.287 L 146.907 334.156 L 147.703 333.016 L 148.506 331.867 L 149.315 330.71 L 150.13 329.544 L 150.951 328.37 L 151.78 327.186 L 152.614 325.993 L 153.456 324.791 L 154.305 323.58 L 155.16 322.359 L 156.023 321.128 L 156.893 319.887 L 157.77 318.636 L 158.654 317.375 L 159.547 316.104 L 160.447 314.822 L 161.354 313.529 L 162.27 312.226 L 163.194 310.911 L 164.126 309.585 L 165.067 308.248 L 166.016 306.899 L 166.974 305.538 L 167.94 304.165 L 168.916 302.78 L 169.901 301.382 L 170.895 299.971 L 171.899 298.547 L 172.913 297.11 L 173.936 295.66 L 174.97 294.196 L 176.014 292.718 L 177.068 291.225 L 178.133 289.718 L 179.209 288.196 L 180.296 286.659 L 181.395 285.107 L 182.505 283.539 L 183.627 281.954 L 184.761 280.354 L 185.907 278.736 L 187.066 277.101 L 188.238 275.449 L 189.423 273.779 L 190.622 272.091 L 191.834 270.384" clip-path="url(#p0dc1dbd13c)" style="fill: none; stroke-dasharray: 1,1.65; stroke-dashoffset: 0; stroke: #1e90ff; stroke-opacity: 0.8"/>
</g>
<g id="line2d_95">
<path d="M 131.562 384.99 L 132.115 384.171 L 132.672 383.347 L 133.231 382.518 L 133.794 381.686 L 134.36 380.849 L 134.929 380.007 L 135.502 379.16 L 136.078 378.309 L 136.657 377.453 L 137.24 376.593 L 137.826 375.728 L 138.415 374.857 L 139.008 373.982 L 139.605 373.102 L 140.205 372.217 L 140.808 371.326 L 141.416 370.431 L 142.027 369.53 L 142.642 368.624 L 143.261 367.713 L 143.883 366.796 L 144.51 365.874 L 145.14 364.946 L 145.774 364.013 L 146.413 363.074 L 147.055 362.129 L 147.702 361.179 L 148.353 360.222 L 149.008 359.26 L 149.667 358.291 L 150.331 357.317 L 150.999 356.336 L 151.672 355.349 L 152.349 354.356 L 153.031 353.356 L 153.717 352.349 L 154.408 351.337 L 155.104 350.317 L 155.805 349.291 L 156.511 348.257 L 157.221 347.217 L 157.937 346.17 L 158.658 345.116 L 159.384 344.054 L 160.115 342.985 L 160.852 341.908 L 161.594 340.825 L 162.341 339.733 L 163.094 338.633 L 163.853 337.526 L 164.617 336.411 L 165.388 335.287 L 166.164 334.156 L 166.946 333.016 L 167.734 331.867 L 168.529 330.71 L 169.329 329.544 L 170.136 328.37 L 170.95 327.186 L 171.77 325.993 L 172.597 324.791 L 173.43 323.58 L 174.271 322.359 L 175.118 321.128 L 175.973 319.887 L 176.835 318.636 L 177.704 317.375 L 178.58 316.104 L 179.465 314.822 L 180.357 313.529 L 181.257 312.226 L 182.164 310.911 L 183.08 309.585 L 184.005 308.248 L 184.937 306.899 L 185.879 305.538 L 186.829 304.165 L 187.788 302.78 L 188.756 301.382 L 189.733 299.971 L 190.72 298.547 L 191.716 297.11 L 192.722 295.66 L 193.738 294.196 L 194.764 292.718 L 195.801 291.225 L 196.848 289.718 L 197.905 288.196 L 198.974 286.659 L 200.054 285.107 L 201.146 283.539 L 202.249 281.954 L 203.364 280.354 L 204.491 278.736 L 205.631 277.101 L 206.783 275.449 L 207.949 273.779 L 209.127 272.091 L 210.32 270.384" clip-path="url(#p0dc1dbd13c)" style="fill: none; stroke-dasharray: 1,1.65; stroke-dashoffset: 0; stroke: #1e90ff; stroke-opacity: 0.8"/>
</g>
<g id="line2d_96">
<path d="M 157.84 384.99 L 158.379 384.171 L 158.921 383.347 L 159.466 382.518 L 160.014 381.686 L 160.565 380.849 L 161.119 380.007 L 161.677 379.16 L 162.238 378.309 L 162.802 377.453 L 163.37 376.593 L 163.94 375.728 L 164.515 374.857 L 165.092 373.982 L 165.673 373.102 L 166.258 372.217 L 166.846 371.326 L 167.438 370.431 L 168.033 369.53 L 168.633 368.624 L 169.235 367.713 L 169.842 366.796 L 170.452 365.874 L 171.067 364.946 L 171.685 364.013 L 172.307 363.074 L 172.933 362.129 L 173.563 361.179 L 174.198 360.222 L 174.836 359.26 L 175.479 358.291 L 176.126 357.317 L 176.777 356.336 L 177.433 355.349 L 178.093 354.356 L 178.757 353.356 L 179.427 352.349 L 180.1 351.337 L 180.779 350.317 L 181.462 349.291 L 182.15 348.257 L 182.843 347.217 L 183.541 346.17 L 184.244 345.116 L 184.952 344.054 L 185.665 342.985 L 186.383 341.908 L 187.107 340.825 L 187.836 339.733 L 188.57 338.633 L 189.31 337.526 L 190.056 336.411 L 190.807 335.287 L 191.564 334.156 L 192.327 333.016 L 193.096 331.867 L 193.871 330.71 L 194.652 329.544 L 195.44 328.37 L 196.233 327.186 L 197.034 325.993 L 197.84 324.791 L 198.654 323.58 L 199.474 322.359 L 200.301 321.128 L 201.135 319.887 L 201.976 318.636 L 202.824 317.375 L 203.68 316.104 L 204.543 314.822 L 205.413 313.529 L 206.292 312.226 L 207.178 310.911 L 208.072 309.585 L 208.975 308.248 L 209.885 306.899 L 210.804 305.538 L 211.732 304.165 L 212.668 302.78 L 213.613 301.382 L 214.568 299.971 L 215.531 298.547 L 216.504 297.11 L 217.487 295.66 L 218.479 294.196 L 219.481 292.718 L 220.494 291.225 L 221.516 289.718 L 222.55 288.196 L 223.594 286.659 L 224.649 285.107 L 225.715 283.539 L 226.793 281.954 L 227.882 280.354 L 228.984 278.736 L 230.097 277.101 L 231.224 275.449 L 232.363 273.779 L 233.514 272.091 L 234.68 270.384" clip-path="url(#p0dc1dbd13c)" style="fill: none; stroke-dasharray: 1,1.65; stroke-dashoffset: 0; stroke: #1e90ff; stroke-opacity: 0.8"/>
</g>
<g id="line2d_97">
<path d="M 179.71 384.99 L 180.237 384.171 L 180.767 383.347 L 181.299 382.518 L 181.835 381.686 L 182.373 380.849 L 182.915 380.007 L 183.46 379.16 L 184.008 378.309 L 184.56 377.453 L 185.114 376.593 L 185.672 375.728 L 186.233 374.857 L 186.798 373.982 L 187.366 373.102 L 187.937 372.217 L 188.512 371.326 L 189.091 370.431 L 189.673 369.53 L 190.258 368.624 L 190.848 367.713 L 191.441 366.796 L 192.037 365.874 L 192.638 364.946 L 193.242 364.013 L 193.85 363.074 L 194.463 362.129 L 195.079 361.179 L 195.699 360.222 L 196.323 359.26 L 196.952 358.291 L 197.585 357.317 L 198.221 356.336 L 198.863 355.349 L 199.508 354.356 L 200.158 353.356 L 200.813 352.349 L 201.472 351.337 L 202.135 350.317 L 202.804 349.291 L 203.477 348.257 L 204.154 347.217 L 204.837 346.17 L 205.525 345.116 L 206.217 344.054 L 206.915 342.985 L 207.617 341.908 L 208.325 340.825 L 209.039 339.733 L 209.757 338.633 L 210.481 337.526 L 211.211 336.411 L 211.946 335.287 L 212.687 334.156 L 213.434 333.016 L 214.186 331.867 L 214.945 330.71 L 215.709 329.544 L 216.48 328.37 L 217.257 327.186 L 218.04 325.993 L 218.83 324.791 L 219.626 323.58 L 220.429 322.359 L 221.238 321.128 L 222.055 319.887 L 222.878 318.636 L 223.709 317.375 L 224.546 316.104 L 225.391 314.822 L 226.244 313.529 L 227.104 312.226 L 227.972 310.911 L 228.847 309.585 L 229.731 308.248 L 230.623 306.899 L 231.523 305.538 L 232.431 304.165 L 233.348 302.78 L 234.274 301.382 L 235.209 299.971 L 236.153 298.547 L 237.106 297.11 L 238.068 295.66 L 239.041 294.196 L 240.022 292.718 L 241.014 291.225 L 242.016 289.718 L 243.029 288.196 L 244.052 286.659 L 245.086 285.107 L 246.131 283.539 L 247.187 281.954 L 248.255 280.354 L 249.334 278.736 L 250.426 277.101 L 251.53 275.449 L 252.646 273.779 L 253.775 272.091 L 254.918 270.384" clip-path="url(#p0dc1dbd13c)" style="fill: none; stroke-dasharray: 1,1.65; stroke-dashoffset: 0; stroke: #1e90ff; stroke-opacity: 0.8"/>
</g>
<g id="line2d_98">
<path d="M 195.802 384.99 L 196.32 384.171 L 196.84 383.347 L 197.363 382.518 L 197.889 381.686 L 198.419 380.849 L 198.951 380.007 L 199.486 379.16 L 200.025 378.309 L 200.567 377.453 L 201.112 376.593 L 201.66 375.728 L 202.211 374.857 L 202.766 373.982 L 203.324 373.102 L 203.886 372.217 L 204.451 371.326 L 205.019 370.431 L 205.591 369.53 L 206.167 368.624 L 206.746 367.713 L 207.329 366.796 L 207.915 365.874 L 208.505 364.946 L 209.099 364.013 L 209.697 363.074 L 210.299 362.129 L 210.905 361.179 L 211.514 360.222 L 212.128 359.26 L 212.746 358.291 L 213.368 357.317 L 213.994 356.336 L 214.624 355.349 L 215.259 354.356 L 215.898 353.356 L 216.541 352.349 L 217.189 351.337 L 217.842 350.317 L 218.499 349.291 L 219.161 348.257 L 219.827 347.217 L 220.498 346.17 L 221.175 345.116 L 221.856 344.054 L 222.542 342.985 L 223.233 341.908 L 223.929 340.825 L 224.63 339.733 L 225.337 338.633 L 226.049 337.526 L 226.767 336.411 L 227.49 335.287 L 228.219 334.156 L 228.953 333.016 L 229.693 331.867 L 230.439 330.71 L 231.192 329.544 L 231.95 328.37 L 232.714 327.186 L 233.484 325.993 L 234.261 324.791 L 235.045 323.58 L 235.834 322.359 L 236.631 321.128 L 237.434 319.887 L 238.245 318.636 L 239.062 317.375 L 239.886 316.104 L 240.718 314.822 L 241.557 313.529 L 242.403 312.226 L 243.257 310.911 L 244.119 309.585 L 244.988 308.248 L 245.866 306.899 L 246.752 305.538 L 247.646 304.165 L 248.549 302.78 L 249.46 301.382 L 250.38 299.971 L 251.309 298.547 L 252.248 297.11 L 253.195 295.66 L 254.152 294.196 L 255.119 292.718 L 256.095 291.225 L 257.082 289.718 L 258.079 288.196 L 259.086 286.659 L 260.104 285.107 L 261.133 283.539 L 262.173 281.954 L 263.225 280.354 L 264.288 278.736 L 265.363 277.101 L 266.45 275.449 L 267.549 273.779 L 268.662 272.091 L 269.787 270.384" clip-path="url(#p0dc1dbd13c)" style="fill: none; stroke-dasharray: 1,1.65; stroke-dashoffset: 0; stroke: #1e90ff; stroke-opacity: 0.8"/>
</g>
<g id="line2d_99">
<path d="M 219.332 384.99 L 219.836 384.171 L 220.342 383.347 L 220.851 382.518 L 221.364 381.686 L 221.879 380.849 L 222.397 380.007 L 222.918 379.16 L 223.443 378.309 L 223.97 377.453 L 224.5 376.593 L 225.034 375.728 L 225.571 374.857 L 226.111 373.982 L 226.655 373.102 L 227.202 372.217 L 227.752 371.326 L 228.305 370.431 L 228.862 369.53 L 229.423 368.624 L 229.987 367.713 L 230.555 366.796 L 231.126 365.874 L 231.701 364.946 L 232.279 364.013 L 232.862 363.074 L 233.448 362.129 L 234.038 361.179 L 234.632 360.222 L 235.23 359.26 L 235.832 358.291 L 236.438 357.317 L 237.048 356.336 L 237.662 355.349 L 238.281 354.356 L 238.903 353.356 L 239.53 352.349 L 240.162 351.337 L 240.798 350.317 L 241.438 349.291 L 242.083 348.257 L 242.733 347.217 L 243.387 346.17 L 244.046 345.116 L 244.71 344.054 L 245.379 342.985 L 246.053 341.908 L 246.731 340.825 L 247.415 339.733 L 248.104 338.633 L 248.799 337.526 L 249.498 336.411 L 250.204 335.287 L 250.914 334.156 L 251.63 333.016 L 252.352 331.867 L 253.08 330.71 L 253.813 329.544 L 254.553 328.37 L 255.298 327.186 L 256.05 325.993 L 256.808 324.791 L 257.572 323.58 L 258.343 322.359 L 259.12 321.128 L 259.903 319.887 L 260.694 318.636 L 261.491 317.375 L 262.296 316.104 L 263.107 314.822 L 263.926 313.529 L 264.752 312.226 L 265.585 310.911 L 266.427 309.585 L 267.275 308.248 L 268.132 306.899 L 268.997 305.538 L 269.87 304.165 L 270.751 302.78 L 271.641 301.382 L 272.539 299.971 L 273.446 298.547 L 274.362 297.11 L 275.288 295.66 L 276.222 294.196 L 277.166 292.718 L 278.12 291.225 L 279.084 289.718 L 280.057 288.196 L 281.041 286.659 L 282.036 285.107 L 283.041 283.539 L 284.057 281.954 L 285.084 280.354 L 286.123 278.736 L 287.173 277.101 L 288.236 275.449 L 289.31 273.779 L 290.397 272.091 L 291.497 270.384" clip-path="url(#p0dc1dbd13c)" style="fill: none; stroke-dasharray: 1,1.65; stroke-dashoffset: 0; stroke: #1e90ff; stroke-opacity: 0.8"/>
</g>
<g id="line2d_100">
<path d="M 236.654 384.99 L 237.148 384.171 L 237.644 383.347 L 238.142 382.518 L 238.644 381.686 L 239.149 380.849 L 239.656 380.007 L 240.167 379.16 L 240.68 378.309 L 241.197 377.453 L 241.717 376.593 L 242.24 375.728 L 242.766 374.857 L 243.295 373.982 L 243.827 373.102 L 244.363 372.217 L 244.902 371.326 L 245.445 370.431 L 245.99 369.53 L 246.54 368.624 L 247.092 367.713 L 247.649 366.796 L 248.209 365.874 L 248.772 364.946 L 249.339 364.013 L 249.91 363.074 L 250.484 362.129 L 251.063 361.179 L 251.645 360.222 L 252.231 359.26 L 252.821 358.291 L 253.415 357.317 L 254.013 356.336 L 254.615 355.349 L 255.221 354.356 L 255.832 353.356 L 256.447 352.349 L 257.066 351.337 L 257.689 350.317 L 258.317 349.291 L 258.949 348.257 L 259.586 347.217 L 260.228 346.17 L 260.874 345.116 L 261.525 344.054 L 262.181 342.985 L 262.842 341.908 L 263.508 340.825 L 264.178 339.733 L 264.854 338.633 L 265.535 337.526 L 266.222 336.411 L 266.913 335.287 L 267.61 334.156 L 268.313 333.016 L 269.021 331.867 L 269.735 330.71 L 270.454 329.544 L 271.18 328.37 L 271.911 327.186 L 272.649 325.993 L 273.392 324.791 L 274.142 323.58 L 274.898 322.359 L 275.661 321.128 L 276.43 319.887 L 277.206 318.636 L 277.988 317.375 L 278.778 316.104 L 279.574 314.822 L 280.378 313.529 L 281.188 312.226 L 282.007 310.911 L 282.832 309.585 L 283.666 308.248 L 284.507 306.899 L 285.356 305.538 L 286.212 304.165 L 287.078 302.78 L 287.951 301.382 L 288.833 299.971 L 289.724 298.547 L 290.624 297.11 L 291.532 295.66 L 292.45 294.196 L 293.377 292.718 L 294.314 291.225 L 295.26 289.718 L 296.216 288.196 L 297.183 286.659 L 298.16 285.107 L 299.147 283.539 L 300.145 281.954 L 301.154 280.354 L 302.175 278.736 L 303.207 277.101 L 304.25 275.449 L 305.306 273.779 L 306.374 272.091 L 307.454 270.384" clip-path="url(#p0dc1dbd13c)" style="fill: none; stroke-dasharray: 1,1.65; stroke-dashoffset: 0; stroke: #1e90ff; stroke-opacity: 0.8"/>
</g>
<g id="line2d_101">
<path d="M 261.988 384.99 L 262.466 384.171 L 262.946 383.347 L 263.429 382.518 L 263.915 381.686 L 264.404 380.849 L 264.896 380.007 L 265.391 379.16 L 265.888 378.309 L 266.389 377.453 L 266.893 376.593 L 267.399 375.728 L 267.909 374.857 L 268.422 373.982 L 268.938 373.102 L 269.457 372.217 L 269.98 371.326 L 270.506 370.431 L 271.035 369.53 L 271.567 368.624 L 272.103 367.713 L 272.642 366.796 L 273.185 365.874 L 273.731 364.946 L 274.281 364.013 L 274.835 363.074 L 275.392 362.129 L 275.953 361.179 L 276.517 360.222 L 277.086 359.26 L 277.658 358.291 L 278.234 357.317 L 278.814 356.336 L 279.398 355.349 L 279.986 354.356 L 280.579 353.356 L 281.175 352.349 L 281.776 351.337 L 282.381 350.317 L 282.99 349.291 L 283.604 348.257 L 284.222 347.217 L 284.844 346.17 L 285.472 345.116 L 286.103 344.054 L 286.74 342.985 L 287.381 341.908 L 288.028 340.825 L 288.679 339.733 L 289.335 338.633 L 289.996 337.526 L 290.662 336.411 L 291.334 335.287 L 292.011 334.156 L 292.693 333.016 L 293.381 331.867 L 294.074 330.71 L 294.773 329.544 L 295.477 328.37 L 296.188 327.186 L 296.904 325.993 L 297.627 324.791 L 298.355 323.58 L 299.09 322.359 L 299.831 321.128 L 300.578 319.887 L 301.332 318.636 L 302.092 317.375 L 302.859 316.104 L 303.633 314.822 L 304.414 313.529 L 305.202 312.226 L 305.997 310.911 L 306.8 309.585 L 307.61 308.248 L 308.428 306.899 L 309.253 305.538 L 310.086 304.165 L 310.928 302.78 L 311.777 301.382 L 312.635 299.971 L 313.501 298.547 L 314.376 297.11 L 315.26 295.66 L 316.153 294.196 L 317.054 292.718 L 317.966 291.225 L 318.886 289.718 L 319.817 288.196 L 320.757 286.659 L 321.708 285.107 L 322.669 283.539 L 323.64 281.954 L 324.622 280.354 L 325.615 278.736 L 326.62 277.101 L 327.636 275.449 L 328.664 273.779 L 329.703 272.091 L 330.755 270.384" clip-path="url(#p0dc1dbd13c)" style="fill: none; stroke-dasharray: 1,1.65; stroke-dashoffset: 0; stroke: #1e90ff; stroke-opacity: 0.8"/>
</g>
<g id="line2d_102">
<path d="M 280.633 384.99 L 281.099 384.171 L 281.568 383.347 L 282.04 382.518 L 282.514 381.686 L 282.991 380.849 L 283.471 380.007 L 283.954 379.16 L 284.439 378.309 L 284.928 377.453 L 285.419 376.593 L 285.914 375.728 L 286.412 374.857 L 286.912 373.982 L 287.416 373.102 L 287.923 372.217 L 288.433 371.326 L 288.946 370.431 L 289.463 369.53 L 289.983 368.624 L 290.506 367.713 L 291.032 366.796 L 291.562 365.874 L 292.096 364.946 L 292.633 364.013 L 293.173 363.074 L 293.717 362.129 L 294.265 361.179 L 294.816 360.222 L 295.372 359.26 L 295.93 358.291 L 296.493 357.317 L 297.06 356.336 L 297.63 355.349 L 298.205 354.356 L 298.784 353.356 L 299.366 352.349 L 299.953 351.337 L 300.544 350.317 L 301.139 349.291 L 301.739 348.257 L 302.343 347.217 L 302.951 346.17 L 303.564 345.116 L 304.182 344.054 L 304.804 342.985 L 305.431 341.908 L 306.062 340.825 L 306.699 339.733 L 307.34 338.633 L 307.986 337.526 L 308.638 336.411 L 309.294 335.287 L 309.956 334.156 L 310.623 333.016 L 311.295 331.867 L 311.973 330.71 L 312.656 329.544 L 313.345 328.37 L 314.04 327.186 L 314.741 325.993 L 315.447 324.791 L 316.159 323.58 L 316.878 322.359 L 317.603 321.128 L 318.333 319.887 L 319.071 318.636 L 319.815 317.375 L 320.565 316.104 L 321.322 314.822 L 322.086 313.529 L 322.857 312.226 L 323.635 310.911 L 324.421 309.585 L 325.213 308.248 L 326.014 306.899 L 326.821 305.538 L 327.637 304.165 L 328.46 302.78 L 329.292 301.382 L 330.131 299.971 L 330.979 298.547 L 331.836 297.11 L 332.701 295.66 L 333.575 294.196 L 334.458 292.718 L 335.35 291.225 L 336.251 289.718 L 337.162 288.196 L 338.083 286.659 L 339.014 285.107 L 339.955 283.539 L 340.906 281.954 L 341.868 280.354 L 342.841 278.736 L 343.825 277.101 L 344.82 275.449 L 345.827 273.779 L 346.846 272.091 L 347.876 270.384" clip-path="url(#p0dc1dbd13c)" style="fill: none; stroke-dasharray: 1,1.65; stroke-dashoffset: 0; stroke: #1e90ff; stroke-opacity: 0.8"/>
</g>
<g id="line2d_103">
<path d="M 295.486 384.99 L 295.943 384.171 L 296.402 383.347 L 296.864 382.518 L 297.329 381.686 L 297.796 380.849 L 298.267 380.007 L 298.74 379.16 L 299.216 378.309 L 299.695 377.453 L 300.176 376.593 L 300.661 375.728 L 301.149 374.857 L 301.639 373.982 L 302.133 373.102 L 302.63 372.217 L 303.13 371.326 L 303.633 370.431 L 304.14 369.53 L 304.649 368.624 L 305.162 367.713 L 305.679 366.796 L 306.198 365.874 L 306.721 364.946 L 307.248 364.013 L 307.778 363.074 L 308.311 362.129 L 308.848 361.179 L 309.389 360.222 L 309.934 359.26 L 310.482 358.291 L 311.034 357.317 L 311.589 356.336 L 312.149 355.349 L 312.713 354.356 L 313.28 353.356 L 313.852 352.349 L 314.427 351.337 L 315.007 350.317 L 315.591 349.291 L 316.179 348.257 L 316.772 347.217 L 317.369 346.17 L 317.97 345.116 L 318.576 344.054 L 319.186 342.985 L 319.802 341.908 L 320.421 340.825 L 321.046 339.733 L 321.675 338.633 L 322.31 337.526 L 322.949 336.411 L 323.593 335.287 L 324.243 334.156 L 324.897 333.016 L 325.557 331.867 L 326.223 330.71 L 326.893 329.544 L 327.57 328.37 L 328.252 327.186 L 328.939 325.993 L 329.633 324.791 L 330.332 323.58 L 331.038 322.359 L 331.749 321.128 L 332.467 319.887 L 333.191 318.636 L 333.922 317.375 L 334.659 316.104 L 335.402 314.822 L 336.153 313.529 L 336.91 312.226 L 337.674 310.911 L 338.446 309.585 L 339.224 308.248 L 340.01 306.899 L 340.804 305.538 L 341.605 304.165 L 342.414 302.78 L 343.23 301.382 L 344.055 299.971 L 344.888 298.547 L 345.73 297.11 L 346.58 295.66 L 347.439 294.196 L 348.307 292.718 L 349.183 291.225 L 350.069 289.718 L 350.965 288.196 L 351.87 286.659 L 352.785 285.107 L 353.71 283.539 L 354.645 281.954 L 355.591 280.354 L 356.547 278.736 L 357.514 277.101 L 358.493 275.449 L 359.483 273.779 L 360.484 272.091 L 361.498 270.384" clip-path="url(#p0dc1dbd13c)" style="fill: none; stroke-dasharray: 1,1.65; stroke-dashoffset: 0; stroke: #1e90ff; stroke-opacity: 0.8"/>
</g>
<g id="line2d_104">
<path d="M 313.387 384.99 L 313.832 384.171 L 314.28 383.347 L 314.731 382.518 L 315.184 381.686 L 315.64 380.849 L 316.098 380.007 L 316.56 379.16 L 317.024 378.309 L 317.491 377.453 L 317.96 376.593 L 318.433 375.728 L 318.909 374.857 L 319.387 373.982 L 319.869 373.102 L 320.354 372.217 L 320.842 371.326 L 321.332 370.431 L 321.826 369.53 L 322.324 368.624 L 322.824 367.713 L 323.328 366.796 L 323.835 365.874 L 324.345 364.946 L 324.859 364.013 L 325.376 363.074 L 325.896 362.129 L 326.421 361.179 L 326.948 360.222 L 327.48 359.26 L 328.015 358.291 L 328.553 357.317 L 329.096 356.336 L 329.642 355.349 L 330.192 354.356 L 330.746 353.356 L 331.304 352.349 L 331.866 351.337 L 332.432 350.317 L 333.002 349.291 L 333.577 348.257 L 334.155 347.217 L 334.738 346.17 L 335.325 345.116 L 335.917 344.054 L 336.513 342.985 L 337.114 341.908 L 337.719 340.825 L 338.329 339.733 L 338.944 338.633 L 339.564 337.526 L 340.188 336.411 L 340.818 335.287 L 341.452 334.156 L 342.092 333.016 L 342.737 331.867 L 343.387 330.71 L 344.042 329.544 L 344.703 328.37 L 345.37 327.186 L 346.042 325.993 L 346.72 324.791 L 347.403 323.58 L 348.093 322.359 L 348.788 321.128 L 349.49 319.887 L 350.198 318.636 L 350.912 317.375 L 351.632 316.104 L 352.359 314.822 L 353.093 313.529 L 353.833 312.226 L 354.581 310.911 L 355.335 309.585 L 356.097 308.248 L 356.865 306.899 L 357.641 305.538 L 358.425 304.165 L 359.216 302.78 L 360.015 301.382 L 360.822 299.971 L 361.637 298.547 L 362.46 297.11 L 363.292 295.66 L 364.133 294.196 L 364.982 292.718 L 365.84 291.225 L 366.707 289.718 L 367.583 288.196 L 368.469 286.659 L 369.364 285.107 L 370.27 283.539 L 371.185 281.954 L 372.111 280.354 L 373.047 278.736 L 373.994 277.101 L 374.952 275.449 L 375.922 273.779 L 376.902 272.091 L 377.895 270.384" clip-path="url(#p0dc1dbd13c)" style="fill: none; stroke-dasharray: 1,1.65; stroke-dashoffset: 0; stroke: #1e90ff; stroke-opacity: 0.8"/>
</g>
<g id="line2d_105">
<path d="M 327.888 384.99 L 328.324 384.171 L 328.762 383.347 L 329.203 382.518 L 329.647 381.686 L 330.093 380.849 L 330.542 380.007 L 330.994 379.16 L 331.448 378.309 L 331.905 377.453 L 332.365 376.593 L 332.828 375.728 L 333.294 374.857 L 333.762 373.982 L 334.234 373.102 L 334.709 372.217 L 335.186 371.326 L 335.667 370.431 L 336.151 369.53 L 336.638 368.624 L 337.128 367.713 L 337.621 366.796 L 338.118 365.874 L 338.618 364.946 L 339.121 364.013 L 339.628 363.074 L 340.138 362.129 L 340.651 361.179 L 341.168 360.222 L 341.689 359.26 L 342.213 358.291 L 342.741 357.317 L 343.272 356.336 L 343.808 355.349 L 344.347 354.356 L 344.89 353.356 L 345.436 352.349 L 345.987 351.337 L 346.542 350.317 L 347.101 349.291 L 347.664 348.257 L 348.231 347.217 L 348.802 346.17 L 349.378 345.116 L 349.958 344.054 L 350.543 342.985 L 351.131 341.908 L 351.725 340.825 L 352.323 339.733 L 352.926 338.633 L 353.533 337.526 L 354.146 336.411 L 354.763 335.287 L 355.385 334.156 L 356.012 333.016 L 356.645 331.867 L 357.282 330.71 L 357.925 329.544 L 358.574 328.37 L 359.227 327.186 L 359.887 325.993 L 360.552 324.791 L 361.222 323.58 L 361.899 322.359 L 362.581 321.128 L 363.269 319.887 L 363.964 318.636 L 364.665 317.375 L 365.372 316.104 L 366.085 314.822 L 366.805 313.529 L 367.532 312.226 L 368.265 310.911 L 369.005 309.585 L 369.753 308.248 L 370.507 306.899 L 371.269 305.538 L 372.038 304.165 L 372.815 302.78 L 373.599 301.382 L 374.392 299.971 L 375.192 298.547 L 376 297.11 L 376.817 295.66 L 377.642 294.196 L 378.476 292.718 L 379.318 291.225 L 380.17 289.718 L 381.031 288.196 L 381.901 286.659 L 382.78 285.107 L 383.67 283.539 L 384.569 281.954 L 385.478 280.354 L 386.398 278.736 L 387.329 277.101 L 388.27 275.449 L 389.222 273.779 L 390.186 272.091 L 391.161 270.384" clip-path="url(#p0dc1dbd13c)" style="fill: none; stroke-dasharray: 1,1.65; stroke-dashoffset: 0; stroke: #1e90ff; stroke-opacity: 0.8"/>
</g>
<g id="line2d_106">
<path d="M 343.794 384.99 L 344.219 384.171 L 344.647 383.347 L 345.077 382.518 L 345.51 381.686 L 345.946 380.849 L 346.384 380.007 L 346.825 379.16 L 347.269 378.309 L 347.715 377.453 L 348.164 376.593 L 348.616 375.728 L 349.071 374.857 L 349.528 373.982 L 349.989 373.102 L 350.452 372.217 L 350.919 371.326 L 351.388 370.431 L 351.861 369.53 L 352.336 368.624 L 352.815 367.713 L 353.297 366.796 L 353.782 365.874 L 354.27 364.946 L 354.762 364.013 L 355.257 363.074 L 355.755 362.129 L 356.257 361.179 L 356.762 360.222 L 357.271 359.26 L 357.783 358.291 L 358.299 357.317 L 358.818 356.336 L 359.341 355.349 L 359.868 354.356 L 360.398 353.356 L 360.933 352.349 L 361.471 351.337 L 362.013 350.317 L 362.56 349.291 L 363.11 348.257 L 363.664 347.217 L 364.223 346.17 L 364.786 345.116 L 365.353 344.054 L 365.924 342.985 L 366.5 341.908 L 367.081 340.825 L 367.665 339.733 L 368.255 338.633 L 368.849 337.526 L 369.448 336.411 L 370.052 335.287 L 370.66 334.156 L 371.274 333.016 L 371.892 331.867 L 372.516 330.71 L 373.145 329.544 L 373.779 328.37 L 374.419 327.186 L 375.064 325.993 L 375.714 324.791 L 376.371 323.58 L 377.033 322.359 L 377.7 321.128 L 378.374 319.887 L 379.054 318.636 L 379.74 317.375 L 380.432 316.104 L 381.13 314.822 L 381.835 313.529 L 382.546 312.226 L 383.264 310.911 L 383.989 309.585 L 384.721 308.248 L 385.459 306.899 L 386.205 305.538 L 386.959 304.165 L 387.719 302.78 L 388.487 301.382 L 389.263 299.971 L 390.047 298.547 L 390.839 297.11 L 391.639 295.66 L 392.447 294.196 L 393.264 292.718 L 394.09 291.225 L 394.924 289.718 L 395.767 288.196 L 396.62 286.659 L 397.482 285.107 L 398.353 283.539 L 399.234 281.954 L 400.126 280.354 L 401.027 278.736 L 401.939 277.101 L 402.862 275.449 L 403.796 273.779 L 404.741 272.091 L 405.697 270.384" clip-path="url(#p0dc1dbd13c)" style="fill: none; stroke-dasharray: 1,1.65; stroke-dashoffset: 0; stroke: #1e90ff; stroke-opacity: 0.8"/>
</g>
<g id="line2d_107">
<path d="M 360.022 384.99 L 360.437 384.171 L 360.853 383.347 L 361.273 382.518 L 361.695 381.686 L 362.119 380.849 L 362.547 380.007 L 362.976 379.16 L 363.409 378.309 L 363.844 377.453 L 364.282 376.593 L 364.722 375.728 L 365.166 374.857 L 365.612 373.982 L 366.061 373.102 L 366.513 372.217 L 366.968 371.326 L 367.425 370.431 L 367.886 369.53 L 368.35 368.624 L 368.817 367.713 L 369.287 366.796 L 369.76 365.874 L 370.236 364.946 L 370.716 364.013 L 371.199 363.074 L 371.685 362.129 L 372.174 361.179 L 372.667 360.222 L 373.164 359.26 L 373.663 358.291 L 374.167 357.317 L 374.673 356.336 L 375.184 355.349 L 375.698 354.356 L 376.216 353.356 L 376.738 352.349 L 377.263 351.337 L 377.792 350.317 L 378.326 349.291 L 378.863 348.257 L 379.404 347.217 L 379.949 346.17 L 380.499 345.116 L 381.053 344.054 L 381.611 342.985 L 382.173 341.908 L 382.74 340.825 L 383.311 339.733 L 383.887 338.633 L 384.467 337.526 L 385.052 336.411 L 385.642 335.287 L 386.236 334.156 L 386.836 333.016 L 387.44 331.867 L 388.049 330.71 L 388.664 329.544 L 389.283 328.37 L 389.908 327.186 L 390.539 325.993 L 391.175 324.791 L 391.816 323.58 L 392.463 322.359 L 393.116 321.128 L 393.774 319.887 L 394.438 318.636 L 395.109 317.375 L 395.785 316.104 L 396.468 314.822 L 397.157 313.529 L 397.853 312.226 L 398.555 310.911 L 399.264 309.585 L 399.979 308.248 L 400.702 306.899 L 401.431 305.538 L 402.168 304.165 L 402.912 302.78 L 403.664 301.382 L 404.423 299.971 L 405.189 298.547 L 405.964 297.11 L 406.747 295.66 L 407.538 294.196 L 408.337 292.718 L 409.145 291.225 L 409.961 289.718 L 410.787 288.196 L 411.621 286.659 L 412.465 285.107 L 413.318 283.539 L 414.181 281.954 L 415.053 280.354 L 415.936 278.736 L 416.829 277.101 L 417.733 275.449 L 418.647 273.779 L 419.572 272.091 L 420.509 270.384" clip-path="url(#p0dc1dbd13c)" style="fill: none; stroke-dasharray: 1,1.65; stroke-dashoffset: 0; stroke: #1e90ff; stroke-opacity: 0.8"/>
</g>
<g id="line2d_108">
<path d="M 373.508 384.99 L 373.913 384.171 L 374.321 383.347 L 374.731 382.518 L 375.144 381.686 L 375.559 380.849 L 375.977 380.007 L 376.397 379.16 L 376.82 378.309 L 377.246 377.453 L 377.674 376.593 L 378.105 375.728 L 378.539 374.857 L 378.976 373.982 L 379.415 373.102 L 379.857 372.217 L 380.303 371.326 L 380.751 370.431 L 381.202 369.53 L 381.656 368.624 L 382.112 367.713 L 382.572 366.796 L 383.036 365.874 L 383.502 364.946 L 383.971 364.013 L 384.444 363.074 L 384.92 362.129 L 385.399 361.179 L 385.881 360.222 L 386.367 359.26 L 386.857 358.291 L 387.35 357.317 L 387.846 356.336 L 388.346 355.349 L 388.849 354.356 L 389.356 353.356 L 389.867 352.349 L 390.382 351.337 L 390.9 350.317 L 391.423 349.291 L 391.949 348.257 L 392.479 347.217 L 393.013 346.17 L 393.552 345.116 L 394.094 344.054 L 394.641 342.985 L 395.192 341.908 L 395.747 340.825 L 396.307 339.733 L 396.871 338.633 L 397.44 337.526 L 398.013 336.411 L 398.591 335.287 L 399.173 334.156 L 399.761 333.016 L 400.353 331.867 L 400.951 330.71 L 401.553 329.544 L 402.16 328.37 L 402.773 327.186 L 403.391 325.993 L 404.014 324.791 L 404.643 323.58 L 405.278 322.359 L 405.918 321.128 L 406.563 319.887 L 407.215 318.636 L 407.872 317.375 L 408.536 316.104 L 409.206 314.822 L 409.882 313.529 L 410.564 312.226 L 411.252 310.911 L 411.948 309.585 L 412.65 308.248 L 413.359 306.899 L 414.074 305.538 L 414.797 304.165 L 415.527 302.78 L 416.265 301.382 L 417.01 299.971 L 417.762 298.547 L 418.523 297.11 L 419.291 295.66 L 420.067 294.196 L 420.852 292.718 L 421.645 291.225 L 422.446 289.718 L 423.256 288.196 L 424.076 286.659 L 424.904 285.107 L 425.742 283.539 L 426.589 281.954 L 427.446 280.354 L 428.313 278.736 L 429.19 277.101 L 430.077 275.449 L 430.975 273.779 L 431.884 272.091 L 432.804 270.384" clip-path="url(#p0dc1dbd13c)" style="fill: none; stroke-dasharray: 1,1.65; stroke-dashoffset: 0; stroke: #1e90ff; stroke-opacity: 0.8"/>
</g>
<g id="line2d_109">
<path d="M 387.182 384.99 L 387.578 384.171 L 387.976 383.347 L 388.377 382.518 L 388.78 381.686 L 389.186 380.849 L 389.594 380.007 L 390.005 379.16 L 390.419 378.309 L 390.835 377.453 L 391.253 376.593 L 391.675 375.728 L 392.099 374.857 L 392.525 373.982 L 392.955 373.102 L 393.387 372.217 L 393.822 371.326 L 394.26 370.431 L 394.701 369.53 L 395.145 368.624 L 395.592 367.713 L 396.041 366.796 L 396.494 365.874 L 396.95 364.946 L 397.409 364.013 L 397.871 363.074 L 398.337 362.129 L 398.805 361.179 L 399.277 360.222 L 399.753 359.26 L 400.231 358.291 L 400.713 357.317 L 401.199 356.336 L 401.688 355.349 L 402.18 354.356 L 402.677 353.356 L 403.176 352.349 L 403.68 351.337 L 404.187 350.317 L 404.698 349.291 L 405.213 348.257 L 405.732 347.217 L 406.255 346.17 L 406.782 345.116 L 407.313 344.054 L 407.848 342.985 L 408.387 341.908 L 408.931 340.825 L 409.479 339.733 L 410.031 338.633 L 410.588 337.526 L 411.149 336.411 L 411.715 335.287 L 412.285 334.156 L 412.861 333.016 L 413.441 331.867 L 414.026 330.71 L 414.616 329.544 L 415.211 328.37 L 415.811 327.186 L 416.416 325.993 L 417.027 324.791 L 417.643 323.58 L 418.264 322.359 L 418.891 321.128 L 419.524 319.887 L 420.162 318.636 L 420.807 317.375 L 421.457 316.104 L 422.113 314.822 L 422.775 313.529 L 423.444 312.226 L 424.119 310.911 L 424.801 309.585 L 425.489 308.248 L 426.183 306.899 L 426.885 305.538 L 427.594 304.165 L 428.31 302.78 L 429.033 301.382 L 429.763 299.971 L 430.501 298.547 L 431.246 297.11 L 432 295.66 L 432.761 294.196 L 433.531 292.718 L 434.309 291.225 L 435.095 289.718 L 435.89 288.196 L 436.693 286.659 L 437.506 285.107 L 438.328 283.539 L 439.159 281.954 L 440 280.354 L 440.851 278.736 L 441.711 277.101 L 442.582 275.449 L 443.464 273.779 L 444.356 272.091 L 445.259 270.384" clip-path="url(#p0dc1dbd13c)" style="fill: none; stroke-dasharray: 1,1.65; stroke-dashoffset: 0; stroke: #1e90ff; stroke-opacity: 0.8"/>
</g>
<g id="line2d_110">
<path d="M 398.877 384.99 L 399.265 384.171 L 399.655 383.347 L 400.048 382.518 L 400.443 381.686 L 400.84 380.849 L 401.24 380.007 L 401.643 379.16 L 402.048 378.309 L 402.455 377.453 L 402.866 376.593 L 403.278 375.728 L 403.694 374.857 L 404.112 373.982 L 404.533 373.102 L 404.957 372.217 L 405.383 371.326 L 405.813 370.431 L 406.245 369.53 L 406.68 368.624 L 407.118 367.713 L 407.559 366.796 L 408.003 365.874 L 408.45 364.946 L 408.9 364.013 L 409.353 363.074 L 409.809 362.129 L 410.269 361.179 L 410.732 360.222 L 411.198 359.26 L 411.667 358.291 L 412.14 357.317 L 412.616 356.336 L 413.096 355.349 L 413.579 354.356 L 414.066 353.356 L 414.556 352.349 L 415.05 351.337 L 415.547 350.317 L 416.049 349.291 L 416.554 348.257 L 417.063 347.217 L 417.576 346.17 L 418.093 345.116 L 418.614 344.054 L 419.139 342.985 L 419.668 341.908 L 420.202 340.825 L 420.74 339.733 L 421.282 338.633 L 421.828 337.526 L 422.379 336.411 L 422.935 335.287 L 423.495 334.156 L 424.059 333.016 L 424.629 331.867 L 425.203 330.71 L 425.782 329.544 L 426.367 328.37 L 426.956 327.186 L 427.55 325.993 L 428.15 324.791 L 428.755 323.58 L 429.365 322.359 L 429.981 321.128 L 430.602 319.887 L 431.229 318.636 L 431.862 317.375 L 432.501 316.104 L 433.145 314.822 L 433.796 313.529 L 434.453 312.226 L 435.116 310.911 L 435.786 309.585 L 436.462 308.248 L 437.145 306.899 L 437.834 305.538 L 438.531 304.165 L 439.234 302.78 L 439.945 301.382 L 440.662 299.971 L 441.388 298.547 L 442.121 297.11 L 442.861 295.66 L 443.61 294.196 L 444.366 292.718 L 445.131 291.225 L 445.904 289.718 L 446.685 288.196 L 447.476 286.659 L 448.275 285.107 L 449.083 283.539 L 449.9 281.954 L 450.727 280.354 L 451.564 278.736 L 452.411 277.101 L 453.267 275.449 L 454.134 273.779 L 455.012 272.091 L 455.9 270.384" clip-path="url(#p0dc1dbd13c)" style="fill: none; stroke-dasharray: 1,1.65; stroke-dashoffset: 0; stroke: #1e90ff; stroke-opacity: 0.8"/>
</g>
<g id="matplotlib.axis_1">
<g id="xtick_1">
<g id="text_1">
<text style="font: 400 10px 'DejaVu Sans', 'Liberation Sans', sans-serif; fill: #000000" transform="translate(43.8000 400.2000) scale(1 1.0700)" textLength="20.9250" lengthAdjust="spacing">−40</text>
</g>
</g>
<g id="xtick_2">
<g id="text_2">
<text style="font: 400 10px 'DejaVu Sans', 'Liberation Sans', sans-serif; fill: #000000" transform="translate(87.6000 400.2000) scale(1 1.0700)" textLength="21.0000" lengthAdjust="spacing">−30</text>
</g>
</g>
<g id="xtick_3">
<g id="text_3">
<text style="font: 400 10px 'DejaVu Sans', 'Liberation Sans', sans-serif; fill: #000000" transform="translate(132.1500 400.2000) scale(1 1.0700)" textLength="21.0000" lengthAdjust="spacing">−20</text>
</g>
</g>
<g id="xtick_4">
<g id="text_4">
<text style="font: 400 10px 'DejaVu Sans', 'Liberation Sans', sans-serif; fill: #000000" transform="translate(176.4000 400.2000) scale(1 1.0700)" textLength="21.0000" lengthAdjust="spacing">−10</text>
</g>
</g>
<g id="xtick_5">
<g id="text_5">
<text style="font: 400 10px 'DejaVu Sans', 'Liberation Sans', sans-serif; fill: #000000" transform="translate(227.9250 400.2000) scale(1 1.0700)">0</text>
</g>
</g>
<g id="xtick_6">
<g id="text_6">
<text style="font: 400 10px 'DejaVu Sans', 'Liberation Sans', sans-serif; fill: #000000" transform="translate(269.0250 400.2000) scale(1 1.0700)" textLength="12.6750" lengthAdjust="spacing">10</text>
</g>
</g>
<g id="xtick_7">
<g id="text_7">
<text style="font: 400 10px 'DejaVu Sans', 'Liberation Sans', sans-serif; fill: #000000" transform="translate(312.7500 400.2000) scale(1 1.0700)" textLength="12.6750" lengthAdjust="spacing">20</text>
</g>
</g>
<g id="xtick_8">
<g id="text_8">
<text style="font: 400 10px 'DejaVu Sans', 'Liberation Sans', sans-serif; fill: #000000" transform="translate(357.1125 400.2000) scale(1 1.0700)" textLength="12.6750" lengthAdjust="spacing">30</text>
</g>
</g>
<g id="xtick_9">
<g id="text_9">
<text style="font: 400 10px 'DejaVu Sans', 'Liberation Sans', sans-serif; fill: #000000" transform="translate(401.5500 400.2000) scale(1 1.0700)" textLength="12.6000" lengthAdjust="spacing">40</text>
</g>
</g>
<g id="xtick_10">
<g id="text_10">
<text style="font: 400 10px 'DejaVu Sans', 'Liberation Sans', sans-serif; fill: #000000" transform="translate(445.3500 400.2000) scale(1 1.0700)" textLength="12.6000" lengthAdjust="spacing">50</text>
</g>
</g>
<g id="text_11">
<text style="font: 400 10px 'DejaVu Sans', 'Liberation Sans', sans-serif; fill: #000000" transform="translate(210.0000 415.2000) scale(1 1.0700)" textLength="86.0250" lengthAdjust="spacing">Temperature (°C)</text>
</g>
</g>
<g id="matplotlib.axis_2">
<g id="ytick_1">
<g id="text_12">
<text style="font: 400 10px 'DejaVu Sans', 'Liberation Sans', sans-serif; fill: #000000" transform="translate(28.4250 25.8000) scale(1 1.0700)" textLength="18.9750" lengthAdjust="spacing">100</text>
</g>
</g>
<g id="ytick_2">
<g id="text_13">
<text style="font: 400 10px 'DejaVu Sans', 'Liberation Sans', sans-serif; fill: #000000" transform="translate(27.7500 133.2000) scale(1 1.0700)" textLength="18.9750" lengthAdjust="spacing">200</text>
</g>
</g>
<g id="ytick_3">
<g id="text_14">
<text style="font: 400 10px 'DejaVu Sans', 'Liberation Sans', sans-serif; fill: #000000" transform="translate(27.7125 195.6000) scale(1 1.0700)" textLength="18.9750" lengthAdjust="spacing">300</text>
</g>
</g>
<g id="ytick_4">
<g id="text_15">
<text style="font: 400 10px 'DejaVu Sans', 'Liberation Sans', sans-serif; fill: #000000" transform="translate(28.3500 240.0000) scale(1 1.0700)" textLength="18.9000" lengthAdjust="spacing">400</text>
</g>
</g>
<g id="ytick_5">
<g id="text_16">
<text style="font: 400 10px 'DejaVu Sans', 'Liberation Sans', sans-serif; fill: #000000" transform="translate(27.7500 274.8000) scale(1 1.0700)" textLength="18.9000" lengthAdjust="spacing">500</text>
</g>
</g>
<g id="ytick_6">
<g id="text_17">
<text style="font: 400 10px 'DejaVu Sans', 'Liberation Sans', sans-serif; fill: #000000" transform="translate(27.6750 303.0000) scale(1 1.0700)" textLength="18.9000" lengthAdjust="spacing">600</text>
</g>
</g>
<g id="ytick_7">
<g id="text_18">
<text style="font: 400 10px 'DejaVu Sans', 'Liberation Sans', sans-serif; fill: #000000" transform="translate(28.2750 326.4000) scale(1 1.0700)" textLength="18.9000" lengthAdjust="spacing">700</text>
</g>
</g>
<g id="ytick_8">
<g id="text_19">
<text style="font: 400 10px 'DejaVu Sans', 'Liberation Sans', sans-serif; fill: #000000" transform="translate(27.6750 347.4000) scale(1 1.0700)" textLength="18.9000" lengthAdjust="spacing">800</text>
</g>
</g>
<g id="ytick_9">
<g id="text_20">
<text style="font: 400 10px 'DejaVu Sans', 'Liberation Sans', sans-serif; fill: #000000" transform="translate(28.2000 365.4000) scale(1 1.0700)" textLength="18.9000" lengthAdjust="spacing">900</text>
</g>
</g>
<g id="ytick_10">
<g id="text_21">
<text style="font: 400 10px 'DejaVu Sans', 'Liberation Sans', sans-serif; fill: #000000" transform="translate(21.8250 381.6000) scale(1 1.0700)" textLength="25.2750" lengthAdjust="spacing">1000</text>
</g>
</g>
<g id="text_22">
<text style="font: 400 10px 'DejaVu Sans', 'Liberation Sans', sans-serif; fill: #000000" transform="translate(15.0000 240.0000) rotate(-90.0000) scale(1 1.0700)" textLength="71.7000" lengthAdjust="spacing">Pressure (hPa)</text>
</g>
</g>
<g id="text_23">
<text style="font: 400 12px 'DejaVu Sans', 'Liberation Sans', sans-serif; fill: #000000" transform="translate(151.2937 15.6000) scale(1 1.0288)" textLength="203.7000" lengthAdjust="spacing">wetPf2_S233.2026.074.10.45.E30</text>
</g>
<g id="text_24">
<g clip-path="url(#p0dc1dbd13c)">
<text style="font: 700 8px 'DejaVu Sans', 'Liberation Sans', sans-serif; fill: #1e90ff" transform="translate(128.5973 269.6129) rotate(-30.0000) scale(1 0.9259)" textLength="14.2500" lengthAdjust="spacing">0.1</text>
</g>
</g>
<g id="text_25">
<g clip-path="url(#p0dc1dbd13c)">
<text style="font: 700 8px 'DejaVu Sans', 'Liberation Sans', sans-serif; fill: #1e90ff" transform="translate(156.6664 269.6119) rotate(-30.0000) scale(1 0.9259)" textLength="14.1750" lengthAdjust="spacing">0.2</text>
</g>
</g>
<g id="text_26">
<g clip-path="url(#p0dc1dbd13c)">
<text style="font: 700 8px 'DejaVu Sans', 'Liberation Sans', sans-serif; fill: #1e90ff" transform="translate(186.7036 269.5457) rotate(-30.0000) scale(1 0.9259)" textLength="14.1750" lengthAdjust="spacing">0.4</text>
</g>
</g>
<g id="text_27">
<g clip-path="url(#p0dc1dbd13c)">
<text style="font: 700 8px 'DejaVu Sans', 'Liberation Sans', sans-serif; fill: #1e90ff" transform="translate(205.2495 269.6369) rotate(-30.0000) scale(1 0.9259)" textLength="14.2500" lengthAdjust="spacing">0.6</text>
</g>
</g>
<g id="text_28">
<g clip-path="url(#p0dc1dbd13c)">
<text style="font: 700 8px 'DejaVu Sans', 'Liberation Sans', sans-serif; fill: #1e90ff" transform="translate(233.3291 269.7373) rotate(-30.0000) scale(1 0.9259)">1</text>
</g>
</g>
<g id="text_29">
<g clip-path="url(#p0dc1dbd13c)">
<text style="font: 700 8px 'DejaVu Sans', 'Liberation Sans', sans-serif; fill: #1e90ff" transform="translate(249.7393 269.9750) rotate(-30.0000) scale(1 0.9259)" textLength="14.2500" lengthAdjust="spacing">1.5</text>
</g>
</g>
<g id="text_30">
<g clip-path="url(#p0dc1dbd13c)">
<text style="font: 700 8px 'DejaVu Sans', 'Liberation Sans', sans-serif; fill: #1e90ff" transform="translate(268.0081 269.7299) rotate(-30.0000) scale(1 0.9259)">2</text>
</g>
</g>
<g id="text_31">
<g clip-path="url(#p0dc1dbd13c)">
<text style="font: 700 8px 'DejaVu Sans', 'Liberation Sans', sans-serif; fill: #1e90ff" transform="translate(290.0267 269.5874) rotate(-30.0000) scale(1 0.9259)">3</text>
</g>
</g>
<g id="text_32">
<g clip-path="url(#p0dc1dbd13c)">
<text style="font: 700 8px 'DejaVu Sans', 'Liberation Sans', sans-serif; fill: #1e90ff" transform="translate(306.3799 269.1462) rotate(-30.0000) scale(1 0.9259)">4</text>
</g>
</g>
<g id="text_33">
<g clip-path="url(#p0dc1dbd13c)">
<text style="font: 700 8px 'DejaVu Sans', 'Liberation Sans', sans-serif; fill: #1e90ff" transform="translate(329.6462 269.4420) rotate(-30.0000) scale(1 0.9259)">6</text>
</g>
</g>
<g id="text_34">
<g clip-path="url(#p0dc1dbd13c)">
<text style="font: 700 8px 'DejaVu Sans', 'Liberation Sans', sans-serif; fill: #1e90ff" transform="translate(346.4685 269.4410) rotate(-30.0000) scale(1 0.9259)">8</text>
</g>
</g>
<g id="text_35">
<g clip-path="url(#p0dc1dbd13c)">
<text style="font: 700 8px 'DejaVu Sans', 'Liberation Sans', sans-serif; fill: #1e90ff" transform="translate(357.7704 269.9180) rotate(-30.0000) scale(1 0.9259)" textLength="11.1750" lengthAdjust="spacing">10</text>
</g>
</g>
<g id="text_36">
<g clip-path="url(#p0dc1dbd13c)">
<text style="font: 700 8px 'DejaVu Sans', 'Liberation Sans', sans-serif; fill: #1e90ff" transform="translate(373.8428 269.9379) rotate(-30.0000) scale(1 0.9259)" textLength="11.2500" lengthAdjust="spacing">13</text>
</g>
</g>
<g id="text_37">
<g clip-path="url(#p0dc1dbd13c)">
<text style="font: 700 8px 'DejaVu Sans', 'Liberation Sans', sans-serif; fill: #1e90ff" transform="translate(387.2487 269.9747) rotate(-30.0000) scale(1 0.9259)" textLength="11.2500" lengthAdjust="spacing">16</text>
</g>
</g>
<g id="text_38">
<g clip-path="url(#p0dc1dbd13c)">
<text style="font: 700 8px 'DejaVu Sans', 'Liberation Sans', sans-serif; fill: #1e90ff" transform="translate(401.8198 269.7362) rotate(-30.0000) scale(1 0.9259)" textLength="11.1000" lengthAdjust="spacing">20</text>
</g>
</g>
<g id="text_39">
<g clip-path="url(#p0dc1dbd13c)">
<text style="font: 700 8px 'DejaVu Sans', 'Liberation Sans', sans-serif; fill: #1e90ff" transform="translate(416.8396 269.7651) rotate(-30.0000) scale(1 0.9259)" textLength="11.1000" lengthAdjust="spacing">25</text>
</g>
</g>
<g id="text_40">
<g clip-path="url(#p0dc1dbd13c)">
<text style="font: 700 8px 'DejaVu Sans', 'Liberation Sans', sans-serif; fill: #1e90ff" transform="translate(428.9046 269.7276) rotate(-30.0000) scale(1 0.9259)" textLength="11.1750" lengthAdjust="spacing">30</text>
</g>
</g>
<g id="text_41">
<g clip-path="url(#p0dc1dbd13c)">
<text style="font: 700 8px 'DejaVu Sans', 'Liberation Sans', sans-serif; fill: #1e90ff" transform="translate(441.5046 269.7276) rotate(-30.0000) scale(1 0.9259)" textLength="11.2500" lengthAdjust="spacing">36</text>
</g>
</g>
<g id="text_42">
<g clip-path="url(#p0dc1dbd13c)">
<text style="font: 700 8px 'DejaVu Sans', 'Liberation Sans', sans-serif; fill: #1e90ff" transform="translate(451.8670 269.6339) rotate(-30.0000) scale(1 0.9259)" textLength="11.1000" lengthAdjust="spacing">42</text>
</g>
</g>
<g id="text_43">
<g clip-path="url(#p0dc1dbd13c)">
<text style="font: 700 8px 'DejaVu Sans', 'Liberation Sans', sans-serif; fill: #1f77b4" transform="translate(136.5741 41.3265) rotate(-45.0000) scale(1 0.9259)" textLength="20.1000" lengthAdjust="spacing">-100</text>
</g>
</g>
<g id="text_44">
<g clip-path="url(#p0dc1dbd13c)">
<text style="font: 700 8px 'DejaVu Sans', 'Liberation Sans', sans-serif; fill: #1f77b4" transform="translate(152.2259 69.4596) rotate(-45.0000) scale(1 0.9259)" textLength="14.5500" lengthAdjust="spacing">-90</text>
</g>
</g>
<g id="text_45">
<g clip-path="url(#p0dc1dbd13c)">
<text style="font: 700 8px 'DejaVu Sans', 'Liberation Sans', sans-serif; fill: #1f77b4" transform="translate(167.8333 98.2877) rotate(-45.0000) scale(1 0.9259)" textLength="14.5500" lengthAdjust="spacing">-80</text>
</g>
</g>
<g id="text_46">
<g clip-path="url(#p0dc1dbd13c)">
<text style="font: 700 8px 'DejaVu Sans', 'Liberation Sans', sans-serif; fill: #1f77b4" transform="translate(184.6781 125.9224) rotate(-45.0000) scale(1 0.9259)" textLength="14.5500" lengthAdjust="spacing">-70</text>
</g>
</g>
<g id="text_47">
<g clip-path="url(#p0dc1dbd13c)">
<text style="font: 700 8px 'DejaVu Sans', 'Liberation Sans', sans-serif; fill: #1f77b4" transform="translate(202.6023 151.7368) rotate(-45.0000) scale(1 0.9259)" textLength="14.5500" lengthAdjust="spacing">-60</text>
</g>
</g>
<g id="text_48">
<g clip-path="url(#p0dc1dbd13c)">
<text style="font: 700 8px 'DejaVu Sans', 'Liberation Sans', sans-serif; fill: #1f77b4" transform="translate(222.4310 176.3303) rotate(-45.0000) scale(1 0.9259)" textLength="14.4750" lengthAdjust="spacing">-50</text>
</g>
</g>
<g id="text_49">
<g clip-path="url(#p0dc1dbd13c)">
<text style="font: 700 8px 'DejaVu Sans', 'Liberation Sans', sans-serif; fill: #1f77b4" transform="translate(242.7964 200.2827) rotate(-45.0000) scale(1 0.9259)" textLength="14.4750" lengthAdjust="spacing">-40</text>
</g>
</g>
<g id="text_50">
<g clip-path="url(#p0dc1dbd13c)">
<text style="font: 700 8px 'DejaVu Sans', 'Liberation Sans', sans-serif; fill: #1f77b4" transform="translate(263.7682 223.1275) rotate(-45.0000) scale(1 0.9259)" textLength="14.5500" lengthAdjust="spacing">-30</text>
</g>
</g>
<g id="text_51">
<g clip-path="url(#p0dc1dbd13c)">
<text style="font: 700 8px 'DejaVu Sans', 'Liberation Sans', sans-serif; fill: #1f77b4" transform="translate(286.6188 244.7072) rotate(-45.0000) scale(1 0.9259)" textLength="14.4750" lengthAdjust="spacing">-20</text>
</g>
</g>
<g id="text_52">
<g clip-path="url(#p0dc1dbd13c)">
<text style="font: 700 8px 'DejaVu Sans', 'Liberation Sans', sans-serif; fill: #1f77b4" transform="translate(309.3323 265.7603) rotate(-45.0000) scale(1 0.9259)" textLength="14.5500" lengthAdjust="spacing">-10</text>
</g>
</g>
<g id="text_53">
<g clip-path="url(#p0dc1dbd13c)">
<text style="font: 700 8px 'DejaVu Sans', 'Liberation Sans', sans-serif; fill: #808080" transform="translate(337.3503 282.1775) rotate(-45.0000) scale(1 0.9259)">0</text>
</g>
</g>
<g id="text_54">
<g clip-path="url(#p0dc1dbd13c)">
<text style="font: 700 8px 'DejaVu Sans', 'Liberation Sans', sans-serif; fill: #d62728" transform="translate(360.1822 304.4358) rotate(-45.0000) scale(1 0.9259)" textLength="11.1750" lengthAdjust="spacing">10</text>
</g>
</g>
<g id="text_55">
<g clip-path="url(#p0dc1dbd13c)">
<text style="font: 700 8px 'DejaVu Sans', 'Liberation Sans', sans-serif; fill: #d62728" transform="translate(385.0611 322.8273) rotate(-45.0000) scale(1 0.9259)" textLength="11.1000" lengthAdjust="spacing">20</text>
</g>
</g>
<g id="text_56">
<g clip-path="url(#p0dc1dbd13c)">
<text style="font: 700 8px 'DejaVu Sans', 'Liberation Sans', sans-serif; fill: #d62728" transform="translate(411.5718 340.6299) rotate(-45.0000) scale(1 0.9259)" textLength="11.1750" lengthAdjust="spacing">30</text>
</g>
</g>
<g id="text_57">
<g clip-path="url(#p0dc1dbd13c)">
<text style="font: 700 8px 'DejaVu Sans', 'Liberation Sans', sans-serif; fill: #d62728" transform="translate(437.9840 358.5930) rotate(-45.0000) scale(1 0.9259)" textLength="11.1000" lengthAdjust="spacing">40</text>
</g>
</g>
<g id="line2d_131">
<path d="M 233.398 19.497 L 231.901 21.91 L 230.251 24.17 L 228.209 26.602 L 225.477 29.475 L 221.446 33.326 L 212.418 41.882 L 208.811 45.639 L 205.934 48.955 L 203.503 52.108 L 201.257 55.398 L 198.533 59.817 L 190.924 72.49 L 188.2 76.406 L 185.299 80.189 L 182.215 83.835 L 179.222 87.051 L 176.345 89.841 L 173.606 92.212 L 170.396 94.677 L 167.565 96.929 L 166.145 98.311 L 164.905 99.854 L 164.084 101.231 L 163.458 102.714 L 163.067 104.269 L 162.955 105.462 L 163.015 106.661 L 163.359 108.229 L 163.968 109.709 L 164.969 111.445 L 168.472 116.809 L 170.606 119.661 L 172.417 121.74 L 174.402 123.659 L 176.272 125.15 L 178.307 126.488 L 180.824 127.879 L 184.506 129.626 L 189.443 131.927 L 191.436 133.099 L 193.036 134.265 L 194.573 135.663 L 195.696 136.953 L 196.613 138.362 L 197.1 139.476 L 197.362 140.623 L 197.358 141.788 L 197.088 142.954 L 196.6 144.095 L 195.687 145.539 L 194.577 146.844 L 193.378 147.955 L 191.832 149.102 L 166.326 166.208 L 163.204 168.657 L 158.096 173.069 L 153.202 177.372 L 152.201 178.602 L 151.416 179.963 L 150.878 181.461 L 150.546 183.034 L 149.97 186.197 L 149.544 187.325 L 148.945 188.359 L 148.173 189.274 L 146.961 190.335 L 145.302 191.457 L 143.541 192.396 L 141.329 193.332 L 138.281 194.364 L 133.65 195.674 L 128.982 196.767 L 123.496 197.813 L 117.188 198.77 L 109.662 199.673 L 101.314 200.455 L 91.745 201.126 L 80.157 201.706 L 60.96 202.4 L 45.001 203.041 L 45.001 203.041" clip-path="url(#p0dc1dbd13c)" style="fill: none; stroke: #008000; stroke-width: 1.5; stroke-linecap: square"/>
</g>
<g id="line2d_132">
<path d="M 45 251.698 L 61.362 252.497 L 76.936 253.337 L 86.5 254.075 L 94.444 254.903 L 101.567 255.863 L 108.267 256.994 L 114.145 258.213 L 117.617 259.142 L 120.253 260.049 L 122.809 261.173 L 124.547 262.179 L 125.812 263.19 L 126.301 263.82 L 126.58 264.562 L 126.471 265.364 L 126.057 266.07 L 125.487 266.623 L 123.832 267.744 L 121.394 269.114 L 118.853 270.296 L 115.479 271.596 L 111.271 272.945 L 103.992 274.995 L 96.708 277.106 L 93.264 278.291 L 92.948 278.524 L 92.731 278.849 L 92.753 279.2 L 93.001 279.482 L 93.751 279.752 L 97.3 280.59 L 114.471 284.973 L 121.983 286.687 L 128.154 288.076 L 130.096 288.661 L 130.452 288.875 L 130.721 289.17 L 130.721 289.479 L 130.094 289.947 L 124.576 292.307 L 119.154 294.802 L 113.964 297.024 L 111.899 298.187 L 109.549 299.739 L 109.337 300.086 L 109.282 300.477 L 109.425 300.843 L 109.701 301.112 L 110.817 301.551 L 115.43 302.984 L 120.446 304.316 L 126.277 305.634 L 133.33 306.987 L 142.795 308.554 L 160.559 311.456 L 167.612 312.859 L 173.831 314.322 L 178.46 315.587 L 179.581 316.014 L 180.268 316.423 L 180.86 316.993 L 181.28 317.689 L 181.437 318.45 L 181.267 319.215 L 180.863 319.929 L 180.063 320.858 L 176.386 324.604 L 176.195 324.944 L 176.159 325.289 L 176.304 325.632 L 176.869 326.254 L 177.87 326.941 L 178.97 327.404 L 181.296 328.024 L 183.974 328.821 L 186.966 329.993 L 190.288 331.241 L 193.715 332.228 L 195.721 332.841 L 196.305 333.328 L 196.434 333.667 L 196.389 334.043 L 195.836 335.596 L 196.171 336.249 L 196.8 336.791 L 197.862 337.404 L 199.35 337.945 L 207.027 340.126 L 213.145 342.101 L 218.149 343.425 L 224.355 344.807 L 241.31 348.208 L 245.622 348.877 L 251.788 349.672 L 253.354 350.191 L 254.865 350.933 L 256.219 351.892 L 257.07 352.75 L 257.734 353.725 L 258.166 354.815 L 258.331 356.009 L 258.243 357.234 L 257.945 358.389 L 257.117 361.059 L 256.994 362.254 L 257.065 363.044 L 257.294 363.789 L 257.711 364.452 L 258.32 365.013 L 260.285 366.548 L 262.795 369.06 L 264.14 370.55 L 264.514 371.248 L 264.83 372.406 L 264.953 373.996 L 264.821 376.407 L 264.751 378.805 L 264.78 379.2 L 264.78 379.2" clip-path="url(#p0dc1dbd13c)" style="fill: none; stroke: #008000; stroke-width: 1.5; stroke-linecap: square"/>
</g>
<g id="line2d_133">
<path d="M 338.7 19.5 L 338.103 20.58 L 337.339 21.496 L 336.142 22.541 L 331.723 25.992 L 329.737 27.949 L 327.62 30.34 L 324.883 33.804 L 320.679 39.163 L 318.02 42.111 L 312.428 47.818 L 309.7 50.811 L 307.988 53.037 L 306.74 55.059 L 305.906 56.841 L 305.264 58.708 L 304.688 61.033 L 304.062 64.612 L 302.682 72.934 L 301.849 76.406 L 301.002 79.043 L 299.929 81.611 L 298.455 84.466 L 287.426 103.992 L 285.814 106.276 L 284.037 108.422 L 281.577 111.038 L 271.929 120.64 L 268.705 123.611 L 265.939 125.886 L 263.347 127.746 L 260.285 129.655 L 256.068 131.997 L 242.11 139.554 L 236.915 142.656 L 234.911 144.043 L 233.717 145.11 L 232.713 146.35 L 232.134 147.401 L 231.759 148.527 L 231.635 149.701 L 231.744 150.898 L 232.189 152.881 L 233.408 157.078 L 235.161 163.186 L 236.487 168.644 L 237.506 173.768 L 238.236 178.516 L 238.755 183.276 L 239.065 188.053 L 239.177 193.251 L 239.314 198.455 L 239.667 202.039 L 240.004 205.62 L 239.993 208.018 L 239.758 210.002 L 239.286 211.939 L 238.721 213.43 L 237.801 215.217 L 234.41 221.19 L 233.577 223.424 L 232.96 225.725 L 232.474 228.473 L 232.167 231.662 L 232.058 235.266 L 232.168 239.257 L 232.508 243.23 L 233.061 247.178 L 233.9 251.488 L 234.96 255.755 L 236.346 260.355 L 237.946 264.888 L 239.895 269.713 L 241.887 274.077 L 244.069 278.343 L 246.445 282.501 L 249.019 286.539 L 251.557 290.126 L 254.75 294.234 L 261.17 302.407 L 263.418 305.688 L 265.043 308.424 L 266.665 311.636 L 268.162 314.477 L 271.368 320.002 L 272.396 322.573 L 274.718 329.425 L 275.493 332.121 L 275.832 334.062 L 275.91 335.627 L 275.761 337.613 L 275.45 340.044 L 275.56 340.807 L 275.916 341.511 L 276.78 342.881 L 276.81 343.252 L 276.538 343.952 L 275.958 344.49 L 274.51 345.308 L 272.668 346.117 L 270.419 346.875 L 266.552 347.89 L 261.918 349.099 L 260.42 349.706 L 259.385 350.387 L 258.89 350.984 L 258.629 351.697 L 258.57 352.486 L 258.767 353.716 L 259.182 354.877 L 259.926 356.258 L 265.203 364.298 L 266.738 366.139 L 268.698 368.107 L 271.109 370.176 L 274.606 372.83 L 280.689 377.396 L 282.21 378.69 L 282.21 378.69" clip-path="url(#p0dc1dbd13c)" style="fill: none; stroke: #ff0000; stroke-width: 1.5; stroke-linecap: square"/>
</g>
</g>
<g id="line2d_134">
<path d="M 54.3 21.5 L 54.3 385.9" style="fill: none; stroke: #000000; stroke-width: 0.8"/>
</g>
<g id="line2d_135">
<path d="M 452.1 21.5 L 452.1 385.9" style="fill: none; stroke: #000000; stroke-width: 0.8"/>
</g>
<g id="line2d_136">
<path d="M 53.9 21.3 L 452.5 21.3" style="fill: none; stroke: #000000; stroke-opacity: 0.166667; stroke-width: 0.6"/>
</g>
<g id="line2d_137">
<path d="M 53.9 21.9 L 452.5 21.9" style="fill: none; stroke: #000000; stroke-width: 0.6"/>
</g>
<g id="line2d_138">
<path d="M 53.9 22.5 L 452.5 22.5" style="fill: none; stroke: #000000; stroke-opacity: 0.166667; stroke-width: 0.6"/>
</g>
<g id="line2d_139">
<path d="M 53.9 384.9 L 452.5 384.9" style="fill: none; stroke: #000000; stroke-opacity: 0.166667; stroke-width: 0.6"/>
</g>
<g id="line2d_140">
<path d="M 53.9 385.5 L 452.5 385.5" style="fill: none; stroke: #000000; stroke-width: 0.6"/>
</g>
<g id="line2d_141">
<path d="M 53.9 386.1 L 452.5 386.1" style="fill: none; stroke: #000000; stroke-opacity: 0.166667; stroke-width: 0.6"/>
</g>
<g id="line2d_142">
<path d="M 54.3 385.5 L 54.3 389.1" style="fill: none; stroke: #000000; stroke-width: 0.8"/>
</g>
<g id="line2d_143">
<path d="M 98.7 385.5 L 98.7 389.1" style="fill: none; stroke: #000000; stroke-width: 0.8"/>
</g>
<g id="line2d_144">
<path d="M 143.1 385.5 L 143.1 389.1" style="fill: none; stroke: #000000; stroke-width: 0.8"/>
</g>
<g id="line2d_145">
<path d="M 186.9 385.5 L 186.9 389.1" style="fill: none; stroke: #000000; stroke-width: 0.8"/>
</g>
<g id="line2d_146">
<path d="M 231.3 385.5 L 231.3 389.1" style="fill: none; stroke: #000000; stroke-width: 0.8"/>
</g>
<g id="line2d_147">
<path d="M 275.7 385.5 L 275.7 389.1" style="fill: none; stroke: #000000; stroke-width: 0.8"/>
</g>
<g id="line2d_148">
<path d="M 319.5 385.5 L 319.5 389.1" style="fill: none; stroke: #000000; stroke-width: 0.8"/>
</g>
<g id="line2d_149">
<path d="M 363.9 385.5 L 363.9 389.1" style="fill: none; stroke: #000000; stroke-width: 0.8"/>
</g>
<g id="line2d_150">
<path d="M 407.7 385.5 L 407.7 389.1" style="fill: none; stroke: #000000; stroke-width: 0.8"/>
</g>
<g id="line2d_151">
<path d="M 452.1 385.5 L 452.1 389.1" style="fill: none; stroke: #000000; stroke-width: 0.8"/>
</g>
<g id="line2d_152">
<path d="M 50.7 21.3 L 54.3 21.3" style="fill: none; stroke: #000000; stroke-opacity: 0.166667; stroke-width: 0.6"/>
</g>
<g id="line2d_153">
<path d="M 50.7 21.9 L 54.3 21.9" style="fill: none; stroke: #000000; stroke-width: 0.6"/>
</g>
<g id="line2d_154">
<path d="M 50.7 22.5 L 54.3 22.5" style="fill: none; stroke: #000000; stroke-opacity: 0.166667; stroke-width: 0.6"/>
</g>
<g id="line2d_155">
<path d="M 50.7 128.7 L 54.3 128.7" style="fill: none; stroke: #000000; stroke-opacity: 0.166667; stroke-width: 0.6"/>
</g>
<g id="line2d_156">
<path d="M 50.7 129.3 L 54.3 129.3" style="fill: none; stroke: #000000; stroke-width: 0.6"/>
</g>
<g id="line2d_157">
<path d="M 50.7 129.9 L 54.3 129.9" style="fill: none; stroke: #000000; stroke-opacity: 0.166667; stroke-width: 0.6"/>
</g>
<g id="line2d_158">
<path d="M 50.7 191.1 L 54.3 191.1" style="fill: none; stroke: #000000; stroke-opacity: 0.166667; stroke-width: 0.6"/>
</g>
<g id="line2d_159">
<path d="M 50.7 191.7 L 54.3 191.7" style="fill: none; stroke: #000000; stroke-width: 0.6"/>
</g>
<g id="line2d_160">
<path d="M 50.7 192.3 L 54.3 192.3" style="fill: none; stroke: #000000; stroke-opacity: 0.166667; stroke-width: 0.6"/>
</g>
<g id="line2d_161">
<path d="M 50.7 235.5 L 54.3 235.5" style="fill: none; stroke: #000000; stroke-opacity: 0.166667; stroke-width: 0.6"/>
</g>
<g id="line2d_162">
<path d="M 50.7 236.1 L 54.3 236.1" style="fill: none; stroke: #000000; stroke-width: 0.6"/>
</g>
<g id="line2d_163">
<path d="M 50.7 236.7 L 54.3 236.7" style="fill: none; stroke: #000000; stroke-opacity: 0.166667; stroke-width: 0.6"/>
</g>
<g id="line2d_164">
<path d="M 50.7 270.3 L 54.3 270.3" style="fill: none; stroke: #000000; stroke-opacity: 0.166667; stroke-width: 0.6"/>
</g>
<g id="line2d_165">
<path d="M 50.7 270.9 L 54.3 270.9" style="fill: none; stroke: #000000; stroke-width: 0.6"/>
</g>
<g id="line2d_166">
<path d="M 50.7 271.5 L 54.3 271.5" style="fill: none; stroke: #000000; stroke-opacity: 0.166667; stroke-width: 0.6"/>
</g>
<g id="line2d_167">
<path d="M 50.7 298.5 L 54.3 298.5" style="fill: none; stroke: #000000; stroke-opacity: 0.166667; stroke-width: 0.6"/>
</g>
<g id="line2d_168">
<path d="M 50.7 299.1 L 54.3 299.1" style="fill: none; stroke: #000000; stroke-width: 0.6"/>
</g>
<g id="line2d_169">
<path d="M 50.7 299.7 L 54.3 299.7" style="fill: none; stroke: #000000; stroke-opacity: 0.166667; stroke-width: 0.6"/>
</g>
<g id="line2d_170">
<path d="M 50.7 321.9 L 54.3 321.9" style="fill: none; stroke: #000000; stroke-opacity: 0.166667; stroke-width: 0.6"/>
</g>
<g id="line2d_171">
<path d="M 50.7 322.5 L 54.3 322.5" style="fill: none; stroke: #000000; stroke-width: 0.6"/>
</g>
<g id="line2d_172">
<path d="M 50.7 323.1 L 54.3 323.1" style="fill: none; stroke: #000000; stroke-opacity: 0.166667; stroke-width: 0.6"/>
</g>
<g id="line2d_173">
<path d="M 50.7 342.9 L 54.3 342.9" style="fill: none; stroke: #000000; stroke-opacity: 0.166667; stroke-width: 0.6"/>
</g>
<g id="line2d_174">
<path d="M 50.7 343.5 L 54.3 343.5" style="fill: none; stroke: #000000; stroke-width: 0.6"/>
</g>
<g id="line2d_175">
<path d="M 50.7 344.1 L 54.3 344.1" style="fill: none; stroke: #000000; stroke-opacity: 0.166667; stroke-width: 0.6"/>
</g>
<g id="line2d_176">
<path d="M 50.7 360.9 L 54.3 360.9" style="fill: none; stroke: #000000; stroke-opacity: 0.166667; stroke-width: 0.6"/>
</g>
<g id="line2d_177">
<path d="M 50.7 361.5 L 54.3 361.5" style="fill: none; stroke: #000000; stroke-width: 0.6"/>
</g>
<g id="line2d_178">
<path d="M 50.7 362.1 L 54.3 362.1" style="fill: none; stroke: #000000; stroke-opacity: 0.166667; stroke-width: 0.6"/>
</g>
<g id="line2d_179">
<path d="M 50.7 377.1 L 54.3 377.1" style="fill: none; stroke: #000000; stroke-opacity: 0.166667; stroke-width: 0.6"/>
</g>
<g id="line2d_180">
<path d="M 50.7 377.7 L 54.3 377.7" style="fill: none; stroke: #000000; stroke-width: 0.6"/>
</g>
<g id="line2d_181">
<path d="M 50.7 378.3 L 54.3 378.3" style="fill: none; stroke: #000000; stroke-opacity: 0.166667; stroke-width: 0.6"/>
</g>
</g>
<defs>
<clipPath id="p0dc1dbd13c">
<rect x="54.21" y="21.777683" width="397.65" height="363.212317"/>
</clipPath>
</defs>
</svg>

</body></html>
